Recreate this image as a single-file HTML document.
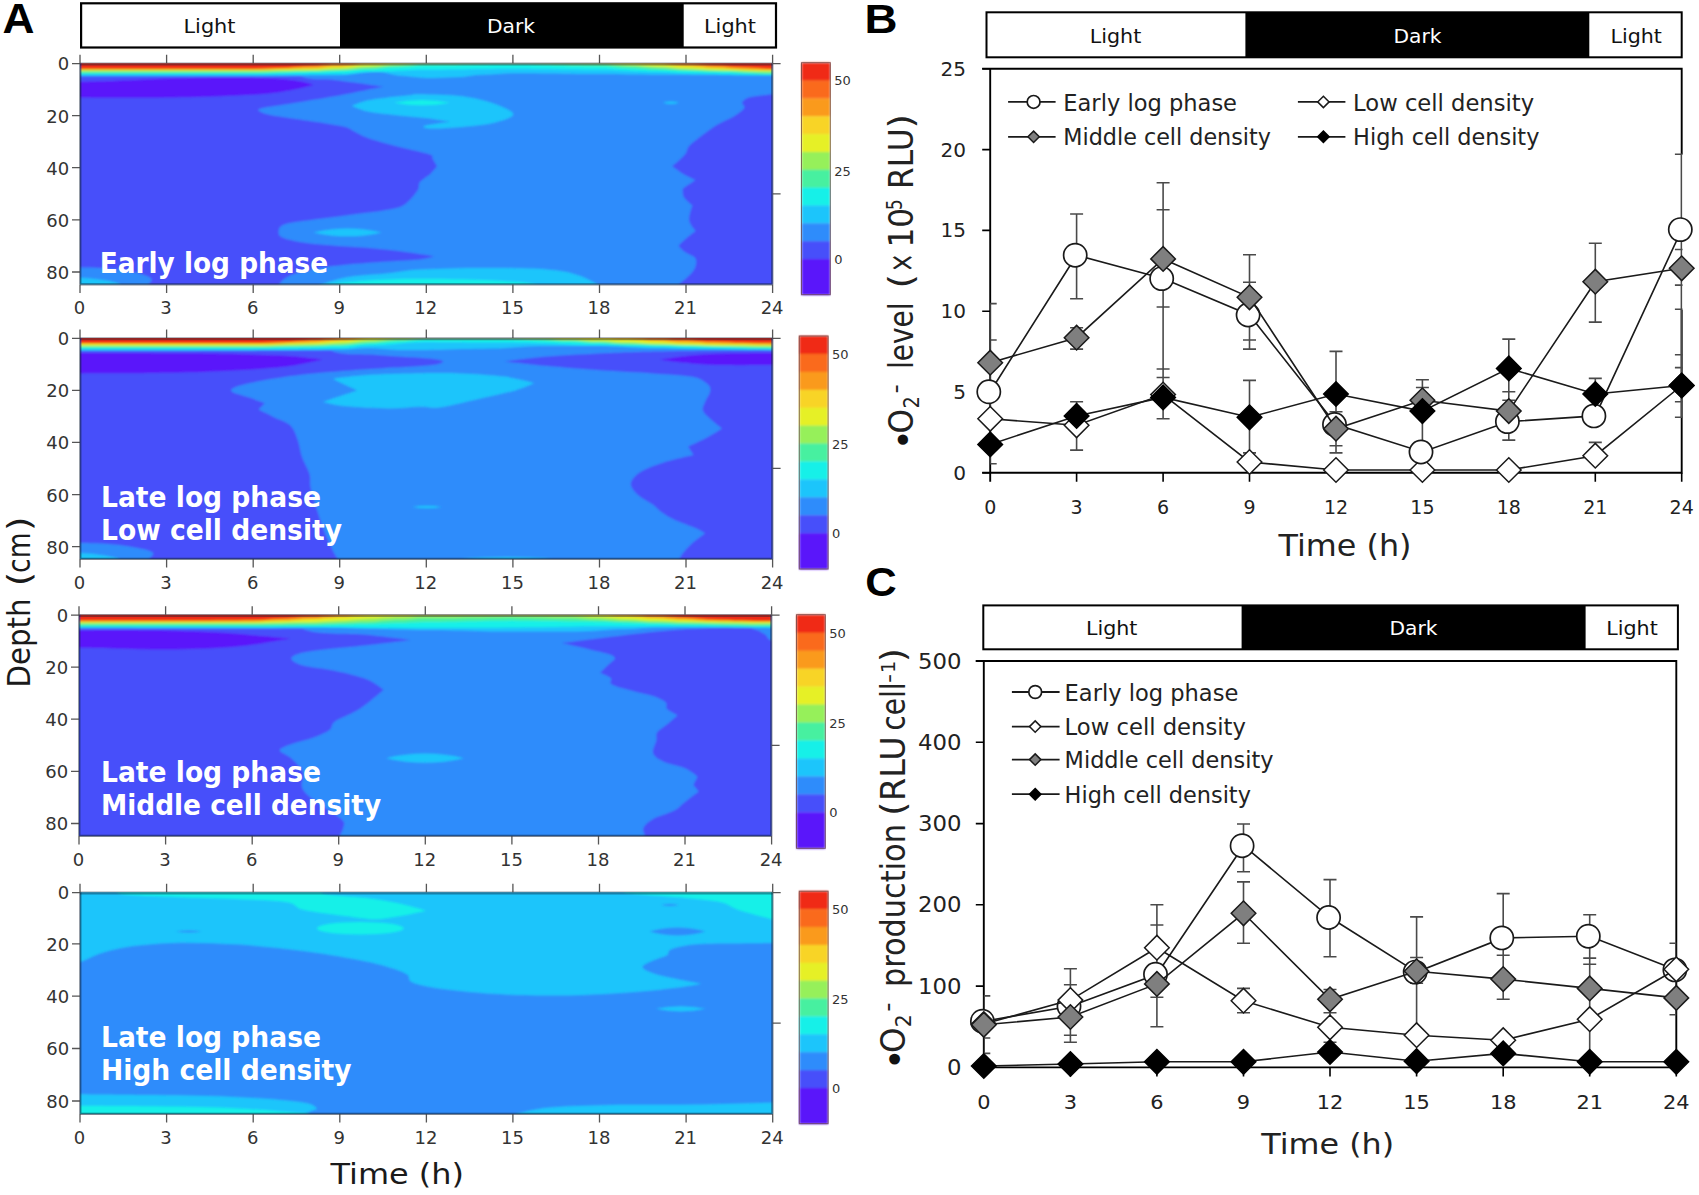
<!DOCTYPE html>
<html lang="en"><head><meta charset="utf-8"><title>Figure</title>
<style>html,body{margin:0;padding:0;background:#fff}body{width:1699px;height:1195px;overflow:hidden}svg text{white-space:pre}</style></head>
<body>
<svg width="1699" height="1195" viewBox="0 0 1699 1195" style="display:block">
<rect width="1699" height="1195" fill="#fff"/>
<defs><filter id="bl" x="-2%" y="-2%" width="104%" height="104%"><feGaussianBlur stdDeviation="0.8"/></filter></defs>
<text x="2.6" y="33" font-family="&quot;Liberation Sans&quot;, sans-serif" font-weight="bold" font-size="42" fill="#000" textLength="32" lengthAdjust="spacingAndGlyphs">A</text>
<rect x="81.1" y="3.3" width="694.9" height="44.2" fill="#fff" stroke="#000" stroke-width="2.2"/>
<rect x="340" y="3.4" width="343.7" height="44" fill="#000"/>
<text x="209.5" y="33" text-anchor="middle" font-family="&quot;DejaVu Sans&quot;, &quot;Liberation Sans&quot;, sans-serif" font-size="20" fill="#111" textLength="52" lengthAdjust="spacingAndGlyphs">Light</text>
<text x="511" y="33" text-anchor="middle" font-family="&quot;DejaVu Sans&quot;, &quot;Liberation Sans&quot;, sans-serif" font-size="20" fill="#fff" textLength="48" lengthAdjust="spacingAndGlyphs">Dark</text>
<text x="730" y="33" text-anchor="middle" font-family="&quot;DejaVu Sans&quot;, &quot;Liberation Sans&quot;, sans-serif" font-size="20" fill="#111" textLength="52" lengthAdjust="spacingAndGlyphs">Light</text>
<clipPath id="cp0"><rect x="80.0" y="63.3" width="692.6" height="221.3"/></clipPath>
<g clip-path="url(#cp0)"><g filter="url(#bl)">
<rect x="60.0" y="43.3" width="732.6" height="261.3" fill="#2d8cfb"/>
<path d="M59.4 44.4C96.5 2.0 242.0 39.3 281.9 44.4C321.8 49.5 290.0 69.2 298.9 75.1C307.7 81.1 323.6 78.5 334.9 80.0C346.2 81.5 358.5 83.1 366.7 84.2C374.8 85.4 383.6 86.8 383.6 86.8C383.6 86.8 374.8 88.4 366.7 90.0C358.5 91.6 347.2 94.1 334.9 96.3C322.5 98.5 304.2 101.4 292.5 103.3C280.8 105.2 270.6 106.4 265.0 107.6C259.3 108.8 257.9 109.3 258.6 110.5C259.3 111.7 263.5 113.4 269.2 114.8C274.8 116.1 283.3 117.2 292.5 118.6C301.7 120.0 315.5 121.8 324.3 123.2C333.1 124.6 340.5 125.7 345.5 127.0C350.4 128.4 350.4 129.5 354.0 131.3C357.5 133.1 361.0 135.5 366.7 137.6C372.3 139.8 380.8 142.1 387.9 144.0C394.9 145.9 402.0 147.5 409.1 149.3C416.1 151.1 426.1 153.0 430.0 154.6C434.0 156.2 431.6 156.9 432.7 158.8C433.9 160.8 437.0 166.3 437.0 166.3C437.0 166.3 433.4 171.0 430.6 173.7C427.8 176.3 422.2 179.3 420.0 182.1C417.8 185.0 420.1 186.9 417.5 190.6C415.0 194.3 409.8 201.2 404.8 204.4C399.9 207.6 396.0 208.1 387.9 209.7C379.7 211.3 366.7 212.5 356.1 213.9C345.5 215.3 334.9 216.8 324.3 218.2C313.7 219.6 299.6 221.2 292.5 222.4C285.4 223.6 284.2 224.2 281.9 225.6C279.6 227.0 278.7 228.9 278.7 230.9C278.7 232.8 277.8 235.3 281.9 237.2C286.0 239.2 294.3 241.1 303.1 242.5C311.9 244.0 324.3 244.8 334.9 245.7C345.5 246.6 356.1 247.0 366.7 247.8C377.3 248.7 387.1 249.6 398.5 251.0C409.8 252.4 434.8 256.3 434.8 256.3C434.8 256.3 427.8 258.6 420.0 259.5C412.2 260.4 400.3 260.7 387.9 261.6C375.4 262.5 357.8 263.6 345.5 264.8C333.1 266.0 323.2 267.1 313.7 269.0C304.2 271.0 294.1 273.6 288.3 276.4C282.4 279.3 280.3 282.3 278.7 286.0C277.1 289.7 278.7 298.7 278.7 298.7C278.7 298.7 59.4 298.7 59.4 298.7C59.4 298.7 22.3 86.8 59.4 44.4Z" fill="#4650fa"/>
<path d="M59.4 82.1C59.4 82.1 93.0 81.5 112.4 80.9C131.8 80.2 154.8 78.9 176.0 78.3C197.1 77.7 221.9 77.4 239.5 77.5C257.2 77.6 271.3 78.2 281.9 78.9C292.5 79.7 297.8 80.7 303.1 81.7C308.4 82.7 313.7 85.1 313.7 85.1C313.7 85.1 301.3 88.4 292.5 90.0C283.7 91.5 276.6 93.0 260.7 94.2C244.8 95.4 218.3 96.4 197.1 97.0C176.0 97.6 156.5 97.7 133.6 97.8C110.6 97.9 59.4 97.4 59.4 97.4C59.4 97.4 59.4 82.1 59.4 82.1Z" fill="#5a14fa"/>
<path d="M59.4 268.0C59.4 268.0 80.6 267.2 91.2 267.5C101.8 267.9 114.5 269.0 123.0 270.1C131.5 271.2 137.3 272.8 142.0 274.3C146.8 275.8 150.5 277.3 151.6 279.2C152.6 281.1 148.9 282.7 148.4 286.0C147.9 289.2 148.4 298.7 148.4 298.7C148.4 298.7 59.4 298.7 59.4 298.7C59.4 298.7 59.4 268.0 59.4 268.0Z" fill="#2d8cfb"/>
<path d="M59.4 276.4C59.4 276.4 82.4 277.7 91.2 278.6C100.0 279.4 107.4 280.5 112.4 281.7C117.3 283.0 119.4 283.2 120.9 286.0C122.3 288.8 120.9 298.7 120.9 298.7C120.9 298.7 59.4 298.7 59.4 298.7C59.4 298.7 59.4 276.4 59.4 276.4Z" fill="#1cc5fb"/>
<path d="M351.8 105.9C351.8 105.9 360.7 102.0 366.7 100.6C372.7 99.1 380.8 98.3 387.9 97.4C394.9 96.5 403.7 95.8 409.1 95.3C414.4 94.7 411.1 94.0 420.0 94.2C428.9 94.4 450.0 94.7 462.4 96.3C474.7 97.9 485.7 100.7 494.2 103.7C502.6 106.7 513.2 111.2 513.2 114.3C513.2 117.5 502.6 120.7 494.2 122.8C485.7 124.9 472.6 126.1 462.4 127.0C452.1 128.0 439.1 128.7 432.7 128.5C426.4 128.4 421.4 127.1 424.2 126.0C427.1 124.9 449.7 121.8 449.7 121.8C449.7 121.8 436.7 119.5 430.0 118.6C423.2 117.7 416.1 117.2 409.1 116.5C402.0 115.7 394.9 115.2 387.9 114.3C380.8 113.5 372.7 112.6 366.7 111.2C360.7 109.7 351.8 105.9 351.8 105.9Z" fill="#1cc5fb"/>
<path d="M394.0 102.7 Q422.0 97.5 450.0 102.7 Q422.0 107.9 394.0 102.7 Z" fill="#16f0e8"/>
<path d="M313.6 232.4 Q347.6 224.6 381.6 232.4 Q347.6 240.2 313.6 232.4 Z" fill="#1cc5fb"/>
<path d="M663.0 102.7 Q671.0 100.1 679.0 102.7 Q671.0 105.3 663.0 102.7 Z" fill="#1cc5fb"/>
<path d="M317.9 286.0C317.9 286.0 333.8 279.6 345.5 277.5C357.1 275.4 375.4 274.6 387.9 273.3C400.3 271.9 404.0 270.3 420.0 269.5C436.0 268.6 462.4 268.0 483.6 268.0C504.8 268.0 531.3 268.2 547.1 269.5C563.0 270.7 570.1 272.6 578.9 275.4C587.8 278.1 600.1 286.0 600.1 286.0C600.1 286.0 600.1 298.7 600.1 298.7C600.1 298.7 317.9 298.7 317.9 298.7C317.9 298.7 317.9 286.0 317.9 286.0Z" fill="#1cc5fb"/>
<path d="M320.1 285.6C320.1 285.6 350.0 281.6 366.7 280.5C383.3 279.3 400.5 278.8 420.0 278.8C439.5 278.7 465.9 279.4 483.6 280.0C501.2 280.7 516.8 281.8 526.0 282.8C535.1 283.8 538.7 286.0 538.7 286.0C538.7 286.0 538.7 298.7 538.7 298.7C538.7 298.7 334.9 298.7 334.9 298.7C334.9 298.7 320.1 285.6 320.1 285.6Z" fill="#16f0e8"/>
<path d="M790.8 94.2C790.8 94.2 778.8 93.9 772.8 94.2C766.8 94.6 759.2 95.6 754.8 96.3C750.4 97.0 748.5 97.4 746.3 98.4C744.2 99.5 742.5 101.1 742.1 102.7C741.7 104.3 745.6 105.7 744.2 108.0C742.8 110.3 738.2 113.6 733.6 116.5C729.0 119.3 722.0 121.8 716.7 124.9C711.4 128.1 706.4 132.0 701.8 135.5C697.2 139.1 692.0 142.9 689.1 146.1C686.3 149.3 687.7 151.2 684.9 154.6C682.1 158.0 672.2 166.3 672.2 166.3C672.2 166.3 678.9 171.4 682.8 173.7C686.7 176.0 695.5 180.0 695.5 180.0C695.5 180.0 682.8 188.5 682.8 188.5C682.8 188.5 682.2 194.2 683.8 197.0C685.4 199.8 692.3 205.5 692.3 205.5C692.3 205.5 688.6 216.1 689.1 220.3C689.7 224.5 695.5 230.9 695.5 230.9C695.5 230.9 687.7 236.9 684.9 239.4C682.1 241.8 678.5 245.7 678.5 245.7C678.5 245.7 682.1 250.0 684.9 252.1C687.7 254.2 693.9 255.6 695.5 258.4C697.1 261.3 695.8 265.8 694.4 269.0C693.0 272.2 689.7 274.7 687.0 277.5C684.4 280.3 679.9 282.4 678.5 286.0C677.1 289.5 678.5 298.7 678.5 298.7C678.5 298.7 790.8 298.7 790.8 298.7C790.8 298.7 790.8 94.2 790.8 94.2Z" fill="#4650fa"/>
<path d="M80.0 61.0L80.0 76.5L87.2 76.5L94.4 76.5L101.6 76.5L108.9 76.5L116.1 76.5L123.3 76.5L130.5 76.5L137.7 76.5L144.9 76.5L152.1 76.5L159.4 76.5L166.6 76.5L173.8 76.5L181.0 76.5L188.2 76.5L195.4 76.5L202.6 76.5L209.9 76.5L217.1 76.5L224.3 76.5L231.5 76.5L238.7 76.5L245.9 76.5L253.2 76.5L260.4 76.5L267.6 76.5L274.8 76.4L282.0 76.3L289.2 76.2L296.4 76.1L303.7 75.9L310.9 75.8L318.1 75.7L325.3 75.6L332.5 75.6L339.7 75.6L346.9 75.5L354.2 75.3L361.4 75.0L368.6 74.8L375.8 74.7L383.0 74.6L390.2 74.5L397.4 74.4L404.7 74.3L411.9 74.1L419.1 74.0L426.3 74.0L433.5 74.0L440.7 74.0L447.9 74.0L455.2 74.0L462.4 74.0L469.6 74.0L476.8 74.0L484.0 74.0L491.2 74.0L498.4 74.0L505.7 74.0L512.9 74.0L520.1 74.0L527.3 74.0L534.5 74.0L541.7 74.0L548.9 74.0L556.2 74.0L563.4 74.0L570.6 74.0L577.8 74.0L585.0 74.0L592.2 74.0L599.5 74.0L606.7 74.0L613.9 74.0L621.1 74.0L628.3 74.0L635.5 74.0L642.7 74.0L650.0 74.0L657.2 74.0L664.4 74.0L671.6 74.0L678.8 74.0L686.0 74.0L693.2 74.0L700.5 74.0L707.7 74.0L714.9 74.0L722.1 74.0L729.3 74.0L736.5 74.0L743.7 74.0L751.0 74.0L758.2 74.0L765.4 74.0L772.6 74.0L772.6 61.0 Z" fill="#2d8cfb"/>
<path d="M80.0 61.0L80.0 75.4L87.2 75.4L94.4 75.4L101.6 75.4L108.9 75.4L116.1 75.4L123.3 75.4L130.5 75.4L137.7 75.4L144.9 75.5L152.1 75.5L159.4 75.5L166.6 75.5L173.8 75.5L181.0 75.5L188.2 75.5L195.4 75.5L202.6 75.5L209.9 75.6L217.1 75.6L224.3 75.6L231.5 75.6L238.7 75.6L245.9 75.6L253.2 75.6L260.4 75.6L267.6 75.6L274.8 75.5L282.0 75.5L289.2 75.5L296.4 75.4L303.7 75.4L310.9 75.3L318.1 75.3L325.3 75.3L332.5 75.2L339.7 75.2L346.9 74.9L354.2 74.1L361.4 73.1L368.6 72.3L375.8 71.8L383.0 72.3L390.2 73.9L397.4 75.6L404.7 76.1L411.9 76.7L419.1 77.6L426.3 78.1L433.5 78.0L440.7 77.7L447.9 77.4L455.2 77.3L462.4 76.9L469.6 76.0L476.8 75.1L484.0 74.7L491.2 74.5L498.4 73.9L505.7 73.4L512.9 73.2L520.1 73.2L527.3 73.3L534.5 73.3L541.7 73.4L548.9 73.5L556.2 73.6L563.4 73.7L570.6 73.8L577.8 73.9L585.0 74.0L592.2 74.0L599.5 74.0L606.7 74.0L613.9 74.1L621.1 74.2L628.3 74.4L635.5 74.5L642.7 74.6L650.0 74.7L657.2 74.7L664.4 74.7L671.6 74.7L678.8 74.8L686.0 74.8L693.2 74.9L700.5 75.0L707.7 75.0L714.9 75.1L722.1 75.2L729.3 75.3L736.5 75.4L743.7 75.5L751.0 75.5L758.2 75.5L765.4 75.6L772.6 75.6L772.6 61.0 Z" fill="#1cc5fb"/>
<path d="M80.0 61.0L80.0 74.4L87.2 74.4L94.4 74.4L101.6 74.4L108.9 74.4L116.1 74.4L123.3 74.4L130.5 74.4L137.7 74.4L144.9 74.4L152.1 74.4L159.4 74.4L166.6 74.4L173.8 74.4L181.0 74.4L188.2 74.4L195.4 74.4L202.6 74.4L209.9 74.4L217.1 74.4L224.3 74.4L231.5 74.4L238.7 74.4L245.9 74.4L253.2 74.4L260.4 74.4L267.6 74.4L274.8 74.3L282.0 74.2L289.2 74.1L296.4 74.0L303.7 73.9L310.9 73.8L318.1 73.7L325.3 73.7L332.5 73.6L339.7 73.6L346.9 73.4L354.2 72.7L361.4 72.1L368.6 71.8L375.8 71.7L383.0 71.5L390.2 71.2L397.4 70.8L404.7 70.4L411.9 70.0L419.1 69.8L426.3 69.7L433.5 69.7L440.7 69.7L447.9 69.6L455.2 69.5L462.4 69.4L469.6 69.2L476.8 69.1L484.0 69.0L491.2 68.9L498.4 68.8L505.7 68.8L512.9 68.8L520.1 68.8L527.3 68.8L534.5 68.9L541.7 69.0L548.9 69.1L556.2 69.2L563.4 69.4L570.6 69.5L577.8 69.6L585.0 69.7L592.2 69.7L599.5 69.7L606.7 69.8L613.9 70.0L621.1 70.4L628.3 70.8L635.5 71.2L642.7 71.5L650.0 71.7L657.2 71.8L664.4 72.0L671.6 72.5L678.8 73.0L686.0 73.2L693.2 73.2L700.5 73.3L707.7 73.5L714.9 73.6L722.1 73.9L729.3 74.1L736.5 74.3L743.7 74.5L751.0 74.7L758.2 74.8L765.4 74.9L772.6 75.0L772.6 61.0 Z" fill="#16f0e8"/>
<path d="M80.0 61.0L80.0 73.2L87.2 73.2L94.4 73.2L101.6 73.2L108.9 73.2L116.1 73.2L123.3 73.2L130.5 73.2L137.7 73.2L144.9 73.2L152.1 73.2L159.4 73.2L166.6 73.2L173.8 73.2L181.0 73.2L188.2 73.2L195.4 73.2L202.6 73.2L209.9 73.2L217.1 73.2L224.3 73.2L231.5 73.2L238.7 73.2L245.9 73.2L253.2 73.2L260.4 73.2L267.6 73.0L274.8 72.8L282.0 72.5L289.2 72.3L296.4 72.0L303.7 71.9L310.9 71.8L318.1 71.7L325.3 71.3L332.5 70.9L339.7 70.8L346.9 70.6L354.2 70.0L361.4 69.5L368.6 69.2L375.8 69.0L383.0 68.3L390.2 67.6L397.4 67.3L404.7 67.0L411.9 66.4L419.1 65.7L426.3 65.4L433.5 65.4L440.7 65.3L447.9 65.3L455.2 65.2L462.4 65.0L469.6 64.9L476.8 64.8L484.0 64.7L491.2 64.6L498.4 64.5L505.7 64.5L512.9 64.4L520.1 64.5L527.3 64.6L534.5 64.7L541.7 64.9L548.9 65.1L556.2 65.4L563.4 65.6L570.6 65.9L577.8 66.1L585.0 66.2L592.2 66.3L599.5 66.4L606.7 66.6L613.9 67.3L621.1 68.0L628.3 68.3L635.5 68.5L642.7 69.0L650.0 69.5L657.2 69.7L664.4 69.9L671.6 70.3L678.8 70.6L686.0 70.8L693.2 70.9L700.5 71.3L707.7 71.7L714.9 71.8L722.1 71.9L729.3 72.1L736.5 72.5L743.7 72.9L751.0 73.3L758.2 73.7L765.4 73.9L772.6 74.0L772.6 61.0 Z" fill="#46f0a0"/>
<path d="M80.0 61.0L80.0 71.8L87.2 71.8L94.4 71.8L101.6 71.8L108.9 71.8L116.1 71.8L123.3 71.8L130.5 71.8L137.7 71.8L144.9 71.8L152.1 71.8L159.4 71.8L166.6 71.8L173.8 71.8L181.0 71.8L188.2 71.8L195.4 71.8L202.6 71.8L209.9 71.8L217.1 71.8L224.3 71.8L231.5 71.8L238.7 71.8L245.9 71.8L253.2 71.8L260.4 71.8L267.6 71.7L274.8 71.6L282.0 71.5L289.2 71.4L296.4 71.2L303.7 71.2L310.9 71.1L318.1 71.0L325.3 70.6L332.5 70.2L339.7 70.1L346.9 69.8L354.2 68.9L361.4 68.1L368.6 67.8L375.8 67.4L383.0 66.6L390.2 65.7L397.4 65.4L404.7 65.1L411.9 64.4L419.1 63.8L426.3 63.5L433.5 63.5L440.7 63.4L447.9 63.4L455.2 63.4L462.4 63.3L469.6 63.2L476.8 63.2L484.0 63.1L491.2 63.1L498.4 63.0L505.7 63.0L512.9 63.0L520.1 63.0L527.3 63.1L534.5 63.1L541.7 63.2L548.9 63.4L556.2 63.5L563.4 63.6L570.6 63.7L577.8 63.8L585.0 63.9L592.2 63.9L599.5 64.0L606.7 64.2L613.9 64.9L621.1 65.6L628.3 65.9L635.5 66.2L642.7 66.8L650.0 67.5L657.2 67.8L664.4 68.1L671.6 68.8L678.8 69.4L686.0 69.7L693.2 69.9L700.5 70.3L707.7 70.6L714.9 70.8L722.1 70.9L729.3 71.0L736.5 71.3L743.7 71.7L751.0 72.0L758.2 72.3L765.4 72.5L772.6 72.5L772.6 61.0 Z" fill="#96f05a"/>
<path d="M80.0 61.0L80.0 70.5L87.2 70.5L94.4 70.5L101.6 70.5L108.9 70.5L116.1 70.5L123.3 70.5L130.5 70.5L137.7 70.5L144.9 70.5L152.1 70.5L159.4 70.5L166.6 70.5L173.8 70.5L181.0 70.5L188.2 70.5L195.4 70.5L202.6 70.5L209.9 70.5L217.1 70.5L224.3 70.5L231.5 70.5L238.7 70.5L245.9 70.5L253.2 70.5L260.4 70.4L267.6 70.3L274.8 70.2L282.0 70.1L289.2 69.9L296.4 69.8L303.7 69.8L310.9 69.7L318.1 69.5L325.3 69.0L332.5 68.5L339.7 68.3L346.9 67.9L354.2 67.1L361.4 66.2L368.6 65.9L375.8 65.6L383.0 64.9L390.2 64.2L397.4 64.0L404.7 63.8L411.9 63.5L419.1 63.1L426.3 63.0L433.5 63.0L440.7 63.0L447.9 63.0L455.2 63.0L462.4 63.0L469.6 63.0L476.8 63.0L484.0 63.0L491.2 63.0L498.4 63.0L505.7 63.0L512.9 63.0L520.1 63.0L527.3 63.0L534.5 63.0L541.7 63.0L548.9 63.0L556.2 63.0L563.4 63.0L570.6 63.0L577.8 63.0L585.0 63.0L592.2 63.0L599.5 63.0L606.7 63.2L613.9 63.7L621.1 64.2L628.3 64.4L635.5 64.7L642.7 65.4L650.0 66.1L657.2 66.4L664.4 66.6L671.6 67.3L678.8 68.0L686.0 68.3L693.2 68.5L700.5 69.0L707.7 69.5L714.9 69.7L722.1 69.8L729.3 69.9L736.5 70.2L743.7 70.4L751.0 70.7L758.2 70.9L765.4 71.1L772.6 71.1L772.6 61.0 Z" fill="#e6f028"/>
<path d="M80.0 61.0L80.0 69.7L87.2 69.7L94.4 69.7L101.6 69.7L108.9 69.7L116.1 69.7L123.3 69.7L130.5 69.7L137.7 69.7L144.9 69.7L152.1 69.7L159.4 69.7L166.6 69.7L173.8 69.7L181.0 69.7L188.2 69.7L195.4 69.7L202.6 69.7L209.9 69.7L217.1 69.7L224.3 69.7L231.5 69.7L238.7 69.7L245.9 69.7L253.2 69.7L260.4 69.7L267.6 69.5L274.8 69.3L282.0 69.0L289.2 68.7L296.4 68.5L303.7 68.3L310.9 68.3L318.1 68.0L325.3 67.3L332.5 66.6L339.7 66.4L346.9 66.0L354.2 65.2L361.4 64.3L368.6 64.0L375.8 63.8L383.0 63.5L390.2 63.1L397.4 63.0L404.7 63.0L411.9 63.0L419.1 63.0L426.3 63.0L433.5 63.0L440.7 63.0L447.9 63.0L455.2 63.0L462.4 63.0L469.6 63.0L476.8 63.0L484.0 63.0L491.2 63.0L498.4 63.0L505.7 63.0L512.9 63.0L520.1 63.0L527.3 63.0L534.5 63.0L541.7 63.0L548.9 63.0L556.2 63.0L563.4 63.0L570.6 63.0L577.8 63.0L585.0 63.0L592.2 63.0L599.5 63.0L606.7 63.0L613.9 63.0L621.1 63.0L628.3 63.0L635.5 63.1L642.7 63.5L650.0 63.8L657.2 64.0L664.4 64.2L671.6 64.9L678.8 65.6L686.0 65.9L693.2 66.2L700.5 66.8L707.7 67.5L714.9 67.8L722.1 68.0L729.3 68.5L736.5 69.0L743.7 69.2L751.0 69.4L758.2 69.7L765.4 70.0L772.6 70.1L772.6 61.0 Z" fill="#fa9a1e"/>
<path d="M80.0 61.0L80.0 68.8L87.2 68.8L94.4 68.8L101.6 68.8L108.9 68.8L116.1 68.8L123.3 68.8L130.5 68.8L137.7 68.8L144.9 68.8L152.1 68.8L159.4 68.8L166.6 68.8L173.8 68.8L181.0 68.8L188.2 68.8L195.4 68.8L202.6 68.8L209.9 68.8L217.1 68.8L224.3 68.8L231.5 68.8L238.7 68.8L245.9 68.8L253.2 68.8L260.4 68.6L267.6 68.3L274.8 67.9L282.0 67.8L289.2 67.5L296.4 66.8L303.7 66.2L310.9 65.9L318.1 65.6L325.3 64.8L332.5 64.1L339.7 63.8L346.9 63.7L354.2 63.4L361.4 63.1L368.6 63.0L375.8 63.0L383.0 63.0L390.2 63.0L397.4 63.0L404.7 63.0L411.9 63.0L419.1 63.0L426.3 63.0L433.5 63.0L440.7 63.0L447.9 63.0L455.2 63.0L462.4 63.0L469.6 63.0L476.8 63.0L484.0 63.0L491.2 63.0L498.4 63.0L505.7 63.0L512.9 63.0L520.1 63.0L527.3 63.0L534.5 63.0L541.7 63.0L548.9 63.0L556.2 63.0L563.4 63.0L570.6 63.0L577.8 63.0L585.0 63.0L592.2 63.0L599.5 63.0L606.7 63.0L613.9 63.0L621.1 63.0L628.3 63.0L635.5 63.0L642.7 63.0L650.0 63.0L657.2 63.0L664.4 63.1L671.6 63.4L678.8 63.7L686.0 63.8L693.2 64.0L700.5 64.6L707.7 65.2L714.9 65.4L722.1 65.7L729.3 66.4L736.5 67.0L743.7 67.3L751.0 67.5L758.2 68.0L765.4 68.5L772.6 68.8L772.6 61.0 Z" fill="#f02a16"/>
</g></g>
<g stroke="#102038" fill="none">
<path d="M80.0 64.1 H772.6" stroke-width="3" opacity="0.42"/>
<path d="M80.0 284.4 H772.6 M80.3 63.3 V284.6 M772.3 63.3 V284.6" stroke-width="2.2" opacity="0.55"/>
<path d="M72.0 63.6 H80.0 M772.6 63.6 H780.6M80.0 54.8 V63.3 M80.0 284.6 V293.1M166.6 54.8 V63.3 M166.6 284.6 V293.1M253.2 54.8 V63.3 M253.2 284.6 V293.1M339.7 54.8 V63.3 M339.7 284.6 V293.1M426.3 54.8 V63.3 M426.3 284.6 V293.1M512.9 54.8 V63.3 M512.9 284.6 V293.1M599.5 54.8 V63.3 M599.5 284.6 V293.1M686.0 54.8 V63.3 M686.0 284.6 V293.1M772.6 54.8 V63.3 M772.6 284.6 V293.1M72.0 115.6 H80.0M72.0 167.7 H80.0M72.0 219.9 H80.0M72.0 272.0 H80.0M772.6 193.9 H780.6" stroke="#444" stroke-width="1.3" opacity="0.9"/>
</g>
<text x="79.5" y="314.4" text-anchor="middle" font-family="&quot;DejaVu Sans&quot;, &quot;Liberation Sans&quot;, sans-serif" font-size="18" fill="#333">0</text>
<text x="166.1" y="314.4" text-anchor="middle" font-family="&quot;DejaVu Sans&quot;, &quot;Liberation Sans&quot;, sans-serif" font-size="18" fill="#333">3</text>
<text x="252.7" y="314.4" text-anchor="middle" font-family="&quot;DejaVu Sans&quot;, &quot;Liberation Sans&quot;, sans-serif" font-size="18" fill="#333">6</text>
<text x="339.2" y="314.4" text-anchor="middle" font-family="&quot;DejaVu Sans&quot;, &quot;Liberation Sans&quot;, sans-serif" font-size="18" fill="#333">9</text>
<text x="425.8" y="314.4" text-anchor="middle" font-family="&quot;DejaVu Sans&quot;, &quot;Liberation Sans&quot;, sans-serif" font-size="18" fill="#333">12</text>
<text x="512.4" y="314.4" text-anchor="middle" font-family="&quot;DejaVu Sans&quot;, &quot;Liberation Sans&quot;, sans-serif" font-size="18" fill="#333">15</text>
<text x="599.0" y="314.4" text-anchor="middle" font-family="&quot;DejaVu Sans&quot;, &quot;Liberation Sans&quot;, sans-serif" font-size="18" fill="#333">18</text>
<text x="685.5" y="314.4" text-anchor="middle" font-family="&quot;DejaVu Sans&quot;, &quot;Liberation Sans&quot;, sans-serif" font-size="18" fill="#333">21</text>
<text x="772.1" y="314.4" text-anchor="middle" font-family="&quot;DejaVu Sans&quot;, &quot;Liberation Sans&quot;, sans-serif" font-size="18" fill="#333">24</text>
<text x="69.2" y="70.4" text-anchor="end" font-family="&quot;DejaVu Sans&quot;, &quot;Liberation Sans&quot;, sans-serif" font-size="18" fill="#333">0</text>
<text x="69.2" y="122.5" text-anchor="end" font-family="&quot;DejaVu Sans&quot;, &quot;Liberation Sans&quot;, sans-serif" font-size="18" fill="#333">20</text>
<text x="69.2" y="174.6" text-anchor="end" font-family="&quot;DejaVu Sans&quot;, &quot;Liberation Sans&quot;, sans-serif" font-size="18" fill="#333">40</text>
<text x="69.2" y="226.8" text-anchor="end" font-family="&quot;DejaVu Sans&quot;, &quot;Liberation Sans&quot;, sans-serif" font-size="18" fill="#333">60</text>
<text x="69.2" y="278.9" text-anchor="end" font-family="&quot;DejaVu Sans&quot;, &quot;Liberation Sans&quot;, sans-serif" font-size="18" fill="#333">80</text>
<text x="99.7" y="273.3" font-family="&quot;DejaVu Sans&quot;, &quot;Liberation Sans&quot;, sans-serif" font-weight="bold" font-size="27.5" fill="#fff" textLength="228.5" lengthAdjust="spacingAndGlyphs">Early log phase</text>
<g filter="url(#bl)">
<rect x="801.5" y="62.70" width="28.8" height="18.15" fill="#f02a16"/>
<rect x="801.5" y="80.55" width="28.8" height="18.15" fill="#fa6a1e"/>
<rect x="801.5" y="98.39" width="28.8" height="18.15" fill="#fa9a1e"/>
<rect x="801.5" y="116.24" width="28.8" height="18.15" fill="#f8d428"/>
<rect x="801.5" y="134.08" width="28.8" height="18.15" fill="#e6f028"/>
<rect x="801.5" y="151.93" width="28.8" height="18.15" fill="#96f05a"/>
<rect x="801.5" y="169.78" width="28.8" height="18.15" fill="#46f0a0"/>
<rect x="801.5" y="187.62" width="28.8" height="18.15" fill="#16f0e8"/>
<rect x="801.5" y="205.47" width="28.8" height="18.15" fill="#1cc5fb"/>
<rect x="801.5" y="223.32" width="28.8" height="18.15" fill="#2d8cfb"/>
<rect x="801.5" y="241.16" width="28.8" height="18.15" fill="#4650fa"/>
<rect x="801.5" y="259.01" width="28.8" height="35.99" fill="#5a14fa"/>
</g>
<rect x="801.5" y="62.7" width="28.8" height="232.0" fill="none" stroke="#5a3030" stroke-width="1" opacity="0.7"/>
<text x="834.3" y="85.4" font-family="&quot;DejaVu Sans&quot;, &quot;Liberation Sans&quot;, sans-serif" font-size="13" fill="#333">50</text>
<text x="834.3" y="175.6" font-family="&quot;DejaVu Sans&quot;, &quot;Liberation Sans&quot;, sans-serif" font-size="13" fill="#333">25</text>
<text x="834.3" y="264.0" font-family="&quot;DejaVu Sans&quot;, &quot;Liberation Sans&quot;, sans-serif" font-size="13" fill="#333">0</text>
<clipPath id="cp1"><rect x="80.0" y="338.0" width="692.6" height="221.0"/></clipPath>
<g clip-path="url(#cp1)"><g filter="url(#bl)">
<rect x="60.0" y="318.0" width="732.6" height="261.0" fill="#2d8cfb"/>
<path d="M59.4 319.4C59.4 319.4 324.3 319.4 324.3 319.4C324.3 319.4 321.8 344.2 330.6 350.1C339.5 356.1 360.7 353.6 377.3 355.0C393.8 356.4 419.0 357.5 430.0 358.6C441.0 359.7 443.3 361.4 443.3 361.4C443.3 361.4 442.8 363.9 430.0 365.2C417.3 366.5 387.8 367.6 366.7 369.2C345.5 370.8 322.5 372.2 303.1 374.5C283.7 376.8 262.1 380.3 250.1 383.0C238.1 385.6 231.1 387.9 231.1 390.4C231.1 392.9 244.5 395.7 250.1 397.8C255.8 399.9 265.0 403.1 265.0 403.1C265.0 403.1 258.6 409.5 258.6 409.5C258.6 409.5 268.1 414.2 273.4 416.9C278.7 419.5 286.3 421.5 290.4 425.4C294.4 429.2 295.9 434.9 297.8 440.2C299.7 445.5 300.1 451.5 302.0 457.1C304.0 462.8 308.0 469.2 309.5 474.1C310.9 479.0 309.5 481.5 310.5 486.8C311.6 492.1 313.5 498.5 315.8 505.9C318.1 513.3 321.5 523.9 324.3 531.3C327.1 538.7 330.5 545.4 332.8 550.4C335.1 555.3 337.2 557.1 338.1 561.0C338.9 564.9 338.1 573.7 338.1 573.7C338.1 573.7 59.4 573.7 59.4 573.7C59.4 573.7 59.4 319.4 59.4 319.4Z" fill="#4650fa"/>
<path d="M59.4 352.9C59.4 352.9 160.1 352.9 197.1 353.3C234.2 353.8 261.1 354.6 281.9 355.6C302.7 356.7 322.2 359.7 322.2 359.7C322.2 359.7 299.2 365.1 281.9 367.1C264.6 369.0 239.5 370.3 218.3 371.3C197.1 372.3 181.3 372.7 154.8 373.0C128.3 373.4 59.4 373.4 59.4 373.4C59.4 373.4 59.4 352.9 59.4 352.9Z" fill="#5a14fa"/>
<path d="M332.8 378.7C332.8 378.7 350.5 375.9 366.7 374.9C382.9 374.0 414.1 373.3 430.0 373.0C446.0 372.8 449.9 372.8 462.4 373.4C474.8 374.0 492.8 375.0 504.8 376.6C516.8 378.2 534.4 383.0 534.4 383.0C534.4 383.0 523.8 387.9 515.4 390.4C506.9 392.9 495.9 395.0 483.6 397.8C471.2 400.6 451.8 405.9 441.2 407.3C430.6 408.8 428.9 406.5 420.0 406.7C411.1 406.9 400.3 408.5 387.9 408.4C375.4 408.3 356.3 407.3 345.5 406.3C334.7 405.2 323.2 402.0 323.2 402.0C323.2 402.0 329.2 399.8 334.9 397.8C340.5 395.9 357.1 390.4 357.1 390.4C357.1 390.4 349.5 387.0 345.5 385.1C341.4 383.2 332.8 378.7 332.8 378.7Z" fill="#1cc5fb"/>
<path d="M412.0 507.0 Q427.0 504.4 442.0 507.0 Q427.0 509.6 412.0 507.0 Z" fill="#1cc5fb"/>
<path d="M59.4 543.0C59.4 543.0 89.4 542.9 101.8 543.6C114.1 544.3 125.1 545.7 133.6 547.2C142.0 548.7 150.2 550.2 152.6 552.5C155.1 554.8 149.1 557.4 148.4 561.0C147.7 564.5 148.4 573.7 148.4 573.7C148.4 573.7 59.4 573.7 59.4 573.7C59.4 573.7 59.4 543.0 59.4 543.0Z" fill="#2d8cfb"/>
<path d="M59.4 552.5C59.4 552.5 85.5 553.1 95.4 554.2C105.3 555.3 115.9 557.4 118.7 558.9C121.6 560.3 113.4 560.6 112.4 563.1C111.3 565.6 112.4 573.7 112.4 573.7C112.4 573.7 59.4 573.7 59.4 573.7C59.4 573.7 59.4 552.5 59.4 552.5Z" fill="#1cc5fb"/>
<path d="M460.9 558.6 Q506.9 555.4 552.9 558.6 Q506.9 561.8 460.9 558.6 Z" fill="#1cc5fb"/>
<path d="M504.8 361.4C504.8 361.4 529.5 357.9 547.1 356.5C564.8 355.1 589.5 353.8 610.7 352.9C631.9 352.0 644.3 351.7 674.3 351.2C704.3 350.7 790.8 350.1 790.8 350.1C790.8 350.1 790.8 573.7 790.8 573.7C790.8 573.7 679.6 573.7 679.6 573.7C679.6 573.7 677.6 563.8 679.6 558.9C681.5 553.9 687.0 548.3 691.2 544.0C695.5 539.8 705.0 533.4 705.0 533.4C705.0 533.4 700.6 530.4 695.5 528.1C690.4 525.8 679.9 522.3 674.3 519.7C668.6 517.0 665.1 514.7 661.6 512.2C658.0 509.8 657.0 507.7 653.1 504.8C649.2 502.0 642.0 498.8 638.3 495.3C634.6 491.8 630.5 487.5 630.8 483.6C631.2 479.7 634.9 475.5 640.4 472.0C645.9 468.4 654.9 465.3 663.7 462.4C672.5 459.6 693.4 455.0 693.4 455.0C693.4 455.0 688.1 446.6 688.1 446.6C688.1 446.6 700.4 441.1 706.1 438.1C711.7 435.1 722.0 428.5 722.0 428.5C722.0 428.5 713.5 422.0 710.3 419.0C707.1 416.0 703.8 413.4 702.9 410.5C702.0 407.7 703.8 405.4 705.0 402.0C706.3 398.7 710.1 393.6 710.3 390.4C710.5 387.2 709.3 385.3 706.1 383.0C702.9 380.7 700.1 378.2 691.2 376.6C682.4 375.0 668.3 374.5 653.1 373.4C637.9 372.4 617.8 371.5 600.1 370.3C582.5 369.0 563.0 367.5 547.1 366.0C531.3 364.5 504.8 361.4 504.8 361.4Z" fill="#4650fa"/>
<path d="M659.5 359.7C659.5 359.7 682.4 356.1 695.5 355.0C708.5 353.9 722.0 353.7 737.9 353.3C753.8 353.0 790.8 352.9 790.8 352.9C790.8 352.9 790.8 365.0 790.8 365.0C790.8 365.0 734.3 365.3 716.7 365.0C699.0 364.6 694.4 363.7 684.9 362.8C675.4 362.0 659.5 359.7 659.5 359.7Z" fill="#5a14fa"/>
<path d="M80.0 335.6L80.0 350.8L87.2 350.8L94.4 350.8L101.6 350.8L108.9 350.8L116.1 350.8L123.3 350.8L130.5 350.8L137.7 350.8L144.9 350.7L152.1 350.7L159.4 350.7L166.6 350.7L173.8 350.7L181.0 350.7L188.2 350.7L195.4 350.7L202.6 350.6L209.9 350.6L217.1 350.6L224.3 350.6L231.5 350.6L238.7 350.6L245.9 350.5L253.2 350.5L260.4 350.5L267.6 350.5L274.8 350.5L282.0 350.5L289.2 350.5L296.4 350.5L303.7 350.5L310.9 350.4L318.1 350.4L325.3 350.4L332.5 350.4L339.7 350.4L346.9 350.4L354.2 350.2L361.4 350.0L368.6 349.9L375.8 349.8L383.0 349.8L390.2 349.6L397.4 349.5L404.7 349.4L411.9 349.3L419.1 349.2L426.3 349.2L433.5 349.2L440.7 349.2L447.9 349.2L455.2 349.2L462.4 349.2L469.6 349.2L476.8 349.2L484.0 349.2L491.2 349.2L498.4 349.2L505.7 349.2L512.9 349.3L520.1 349.3L527.3 349.3L534.5 349.3L541.7 349.3L548.9 349.4L556.2 349.4L563.4 349.4L570.6 349.4L577.8 349.4L585.0 349.5L592.2 349.5L599.5 349.5L606.7 349.5L613.9 349.6L621.1 349.6L628.3 349.6L635.5 349.6L642.7 349.6L650.0 349.7L657.2 349.7L664.4 349.7L671.6 349.7L678.8 349.7L686.0 349.8L693.2 349.8L700.5 349.8L707.7 349.8L714.9 349.8L722.1 349.8L729.3 349.8L736.5 349.8L743.7 349.9L751.0 349.9L758.2 349.9L765.4 349.9L772.6 349.9L772.6 335.6 Z" fill="#2d8cfb"/>
<path d="M80.0 335.6L80.0 350.2L87.2 350.2L94.4 350.2L101.6 350.2L108.9 350.2L116.1 350.2L123.3 350.2L130.5 350.2L137.7 350.2L144.9 350.2L152.1 350.2L159.4 350.2L166.6 350.2L173.8 350.2L181.0 350.2L188.2 350.2L195.4 350.2L202.6 350.2L209.9 350.2L217.1 350.2L224.3 350.2L231.5 350.2L238.7 350.2L245.9 350.2L253.2 350.2L260.4 350.1L267.6 350.1L274.8 350.1L282.0 350.0L289.2 349.9L296.4 349.9L303.7 349.8L310.9 349.7L318.1 349.7L325.3 349.6L332.5 349.6L339.7 349.6L346.9 349.4L354.2 348.9L361.4 348.5L368.6 348.3L375.8 348.5L383.0 349.1L390.2 349.6L397.4 349.9L404.7 349.9L411.9 349.9L419.1 349.9L426.3 349.9L433.5 349.8L440.7 349.7L447.9 349.5L455.2 349.3L462.4 349.1L469.6 348.9L476.8 348.8L484.0 348.7L491.2 348.6L498.4 348.4L505.7 347.9L512.9 347.4L520.1 346.9L527.3 346.5L534.5 346.2L541.7 346.1L548.9 346.1L556.2 346.1L563.4 346.1L570.6 346.1L577.8 346.1L585.0 346.1L592.2 346.1L599.5 346.1L606.7 346.2L613.9 346.5L621.1 346.8L628.3 347.2L635.5 347.6L642.7 348.0L650.0 348.2L657.2 348.3L664.4 348.3L671.6 348.4L678.8 348.4L686.0 348.5L693.2 348.7L700.5 348.8L707.7 348.9L714.9 349.1L722.1 349.2L729.3 349.4L736.5 349.5L743.7 349.6L751.0 349.7L758.2 349.8L765.4 349.9L772.6 349.9L772.6 335.6 Z" fill="#1cc5fb"/>
<path d="M80.0 335.6L80.0 349.2L87.2 349.2L94.4 349.2L101.6 349.2L108.9 349.2L116.1 349.2L123.3 349.2L130.5 349.2L137.7 349.2L144.9 349.2L152.1 349.2L159.4 349.2L166.6 349.2L173.8 349.2L181.0 349.2L188.2 349.2L195.4 349.2L202.6 349.2L209.9 349.2L217.1 349.2L224.3 349.2L231.5 349.2L238.7 349.2L245.9 349.2L253.2 349.2L260.4 349.1L267.6 349.1L274.8 349.0L282.0 348.9L289.2 348.8L296.4 348.7L303.7 348.6L310.9 348.5L318.1 348.4L325.3 348.4L332.5 348.3L339.7 348.3L346.9 347.9L354.2 346.9L361.4 345.8L368.6 345.4L375.8 345.3L383.0 344.9L390.2 344.4L397.4 343.8L404.7 343.1L411.9 342.6L419.1 342.3L426.3 342.1L433.5 342.1L440.7 342.2L447.9 342.2L455.2 342.3L462.4 342.3L469.6 342.4L476.8 342.4L484.0 342.5L491.2 342.6L498.4 342.6L505.7 342.6L512.9 342.6L520.1 342.7L527.3 342.8L534.5 343.0L541.7 343.2L548.9 343.5L556.2 343.8L563.4 344.1L570.6 344.4L577.8 344.7L585.0 344.9L592.2 345.0L599.5 345.0L606.7 345.1L613.9 345.3L621.1 345.6L628.3 346.0L635.5 346.3L642.7 346.6L650.0 346.8L657.2 346.9L664.4 347.1L671.6 347.6L678.8 348.1L686.0 348.3L693.2 348.3L700.5 348.4L707.7 348.4L714.9 348.5L722.1 348.6L729.3 348.7L736.5 348.8L743.7 348.9L751.0 349.0L758.2 349.1L765.4 349.1L772.6 349.2L772.6 335.6 Z" fill="#16f0e8"/>
<path d="M80.0 335.6L80.0 347.6L87.2 347.6L94.4 347.6L101.6 347.6L108.9 347.6L116.1 347.6L123.3 347.6L130.5 347.6L137.7 347.6L144.9 347.6L152.1 347.6L159.4 347.6L166.6 347.6L173.8 347.6L181.0 347.6L188.2 347.6L195.4 347.6L202.6 347.6L209.9 347.6L217.1 347.6L224.3 347.6L231.5 347.6L238.7 347.6L245.9 347.6L253.2 347.6L260.4 347.5L267.6 347.4L274.8 347.3L282.0 347.0L289.2 346.8L296.4 346.7L303.7 346.5L310.9 346.5L318.1 346.3L325.3 346.0L332.5 345.6L339.7 345.4L346.9 345.2L354.2 344.5L361.4 343.9L368.6 343.6L375.8 343.3L383.0 342.6L390.2 341.9L397.4 341.6L404.7 341.3L411.9 340.6L419.1 339.9L426.3 339.6L433.5 339.6L440.7 339.6L447.9 339.6L455.2 339.6L462.4 339.6L469.6 339.6L476.8 339.6L484.0 339.6L491.2 339.6L498.4 339.6L505.7 339.6L512.9 339.6L520.1 339.7L527.3 339.9L534.5 340.2L541.7 340.6L548.9 341.0L556.2 341.3L563.4 341.5L570.6 341.6L577.8 341.8L585.0 342.4L592.2 342.9L599.5 343.1L606.7 343.4L613.9 343.9L621.1 344.4L628.3 344.7L635.5 344.8L642.7 345.0L650.0 345.3L657.2 345.4L664.4 345.5L671.6 345.8L678.8 346.0L686.0 346.1L693.2 346.2L700.5 346.5L707.7 346.8L714.9 346.9L722.1 346.9L729.3 347.1L736.5 347.3L743.7 347.6L751.0 347.9L758.2 348.1L765.4 348.3L772.6 348.3L772.6 335.6 Z" fill="#46f0a0"/>
<path d="M80.0 335.6L80.0 346.5L87.2 346.5L94.4 346.5L101.6 346.5L108.9 346.5L116.1 346.5L123.3 346.5L130.5 346.5L137.7 346.5L144.9 346.5L152.1 346.5L159.4 346.5L166.6 346.5L173.8 346.5L181.0 346.5L188.2 346.5L195.4 346.5L202.6 346.5L209.9 346.5L217.1 346.5L224.3 346.5L231.5 346.5L238.7 346.5L245.9 346.5L253.2 346.5L260.4 346.5L267.6 346.4L274.8 346.3L282.0 346.1L289.2 346.0L296.4 345.9L303.7 345.8L310.9 345.8L318.1 345.6L325.3 345.2L332.5 344.8L339.7 344.7L346.9 344.3L354.2 343.4L361.4 342.5L368.6 342.1L375.8 341.8L383.0 340.9L390.2 340.0L397.4 339.6L404.7 339.4L411.9 338.9L419.1 338.3L426.3 338.1L433.5 338.1L440.7 338.0L447.9 337.9L455.2 337.9L462.4 337.8L469.6 337.7L476.8 337.6L484.0 337.6L491.2 337.7L498.4 337.8L505.7 338.1L512.9 338.4L520.1 338.6L527.3 338.9L534.5 339.1L541.7 339.1L548.9 339.3L556.2 339.9L563.4 340.4L570.6 340.6L577.8 340.8L585.0 341.4L592.2 341.9L599.5 342.1L606.7 342.3L613.9 342.9L621.1 343.4L628.3 343.6L635.5 343.8L642.7 344.1L650.0 344.5L657.2 344.7L664.4 344.8L671.6 345.0L678.8 345.3L686.0 345.4L693.2 345.5L700.5 345.8L707.7 346.0L714.9 346.1L722.1 346.2L729.3 346.2L736.5 346.4L743.7 346.5L751.0 346.6L758.2 346.8L765.4 346.8L772.6 346.9L772.6 335.6 Z" fill="#96f05a"/>
<path d="M80.0 335.6L80.0 345.4L87.2 345.4L94.4 345.4L101.6 345.4L108.9 345.4L116.1 345.4L123.3 345.4L130.5 345.4L137.7 345.4L144.9 345.4L152.1 345.4L159.4 345.4L166.6 345.4L173.8 345.4L181.0 345.4L188.2 345.4L195.4 345.4L202.6 345.4L209.9 345.4L217.1 345.4L224.3 345.4L231.5 345.4L238.7 345.4L245.9 345.4L253.2 345.4L260.4 345.4L267.6 345.2L274.8 345.0L282.0 344.8L289.2 344.5L296.4 344.3L303.7 344.2L310.9 344.1L318.1 343.9L325.3 343.4L332.5 342.9L339.7 342.6L346.9 342.3L354.2 341.4L361.4 340.5L368.6 340.1L375.8 339.8L383.0 339.1L390.2 338.4L397.4 338.1L404.7 338.0L411.9 337.9L419.1 337.7L426.3 337.6L433.5 337.6L440.7 337.6L447.9 337.6L455.2 337.6L462.4 337.6L469.6 337.6L476.8 337.6L484.0 337.6L491.2 337.6L498.4 337.6L505.7 337.6L512.9 337.6L520.1 337.6L527.3 337.6L534.5 337.6L541.7 337.6L548.9 337.8L556.2 338.4L563.4 338.9L570.6 339.1L577.8 339.3L585.0 339.9L592.2 340.4L599.5 340.6L606.7 340.8L613.9 341.4L621.1 341.9L628.3 342.1L635.5 342.3L642.7 342.9L650.0 343.4L657.2 343.6L664.4 343.8L671.6 344.1L678.8 344.5L686.0 344.7L693.2 344.8L700.5 345.0L707.7 345.3L714.9 345.4L722.1 345.4L729.3 345.5L736.5 345.5L743.7 345.6L751.0 345.7L758.2 345.7L765.4 345.8L772.6 345.8L772.6 335.6 Z" fill="#e6f028"/>
<path d="M80.0 335.6L80.0 344.1L87.2 344.1L94.4 344.1L101.6 344.1L108.9 344.1L116.1 344.1L123.3 344.1L130.5 344.1L137.7 344.1L144.9 344.1L152.1 344.1L159.4 344.1L166.6 344.1L173.8 344.1L181.0 344.1L188.2 344.1L195.4 344.1L202.6 344.1L209.9 344.1L217.1 344.1L224.3 344.1L231.5 344.1L238.7 344.1L245.9 344.1L253.2 344.1L260.4 344.1L267.6 343.9L274.8 343.7L282.0 343.4L289.2 343.1L296.4 342.9L303.7 342.7L310.9 342.6L318.1 342.3L325.3 341.6L332.5 340.9L339.7 340.6L346.9 340.2L354.2 339.4L361.4 338.5L368.6 338.1L375.8 338.0L383.0 337.9L390.2 337.7L397.4 337.6L404.7 337.6L411.9 337.6L419.1 337.6L426.3 337.6L433.5 337.6L440.7 337.6L447.9 337.6L455.2 337.6L462.4 337.6L469.6 337.6L476.8 337.6L484.0 337.6L491.2 337.6L498.4 337.6L505.7 337.6L512.9 337.6L520.1 337.6L527.3 337.6L534.5 337.6L541.7 337.6L548.9 337.6L556.2 337.6L563.4 337.6L570.6 337.6L577.8 337.6L585.0 337.6L592.2 337.6L599.5 337.6L606.7 337.8L613.9 338.4L621.1 338.9L628.3 339.1L635.5 339.4L642.7 340.1L650.0 340.8L657.2 341.1L664.4 341.3L671.6 341.9L678.8 342.4L686.0 342.6L693.2 342.8L700.5 343.1L707.7 343.5L714.9 343.6L722.1 343.7L729.3 343.9L736.5 344.1L743.7 344.1L751.0 344.2L758.2 344.4L765.4 344.6L772.6 344.7L772.6 335.6 Z" fill="#fa9a1e"/>
<path d="M80.0 335.6L80.0 343.1L87.2 343.1L94.4 343.1L101.6 343.1L108.9 343.1L116.1 343.1L123.3 343.1L130.5 343.1L137.7 343.1L144.9 343.1L152.1 343.1L159.4 343.1L166.6 343.1L173.8 343.1L181.0 343.1L188.2 343.1L195.4 343.1L202.6 343.1L209.9 343.1L217.1 343.1L224.3 343.1L231.5 343.1L238.7 343.1L245.9 343.1L253.2 343.1L260.4 343.0L267.6 342.6L274.8 342.3L282.0 342.1L289.2 341.8L296.4 341.1L303.7 340.4L310.9 340.1L318.1 339.8L325.3 339.1L332.5 338.4L339.7 338.1L346.9 338.0L354.2 337.9L361.4 337.7L368.6 337.6L375.8 337.6L383.0 337.6L390.2 337.6L397.4 337.6L404.7 337.6L411.9 337.6L419.1 337.6L426.3 337.6L433.5 337.6L440.7 337.6L447.9 337.6L455.2 337.6L462.4 337.6L469.6 337.6L476.8 337.6L484.0 337.6L491.2 337.6L498.4 337.6L505.7 337.6L512.9 337.6L520.1 337.6L527.3 337.6L534.5 337.6L541.7 337.6L548.9 337.6L556.2 337.6L563.4 337.6L570.6 337.6L577.8 337.6L585.0 337.6L592.2 337.6L599.5 337.6L606.7 337.6L613.9 337.6L621.1 337.6L628.3 337.6L635.5 337.7L642.7 338.1L650.0 338.5L657.2 338.6L664.4 338.8L671.6 339.4L678.8 339.9L686.0 340.1L693.2 340.3L700.5 340.9L707.7 341.4L714.9 341.6L722.1 341.8L729.3 342.1L736.5 342.5L743.7 342.6L751.0 342.7L758.2 342.9L765.4 343.1L772.6 343.1L772.6 335.6 Z" fill="#f02a16"/>
</g></g>
<g stroke="#102038" fill="none">
<path d="M80.0 338.8 H772.6" stroke-width="3" opacity="0.42"/>
<path d="M80.0 558.8 H772.6 M80.3 338.0 V559.0 M772.3 338.0 V559.0" stroke-width="2.2" opacity="0.55"/>
<path d="M72.0 338.3 H80.0 M772.6 338.3 H780.6M80.0 329.5 V338.0 M80.0 559.0 V567.5M166.6 329.5 V338.0 M166.6 559.0 V567.5M253.2 329.5 V338.0 M253.2 559.0 V567.5M339.7 329.5 V338.0 M339.7 559.0 V567.5M426.3 329.5 V338.0 M426.3 559.0 V567.5M512.9 329.5 V338.0 M512.9 559.0 V567.5M599.5 329.5 V338.0 M599.5 559.0 V567.5M686.0 329.5 V338.0 M686.0 559.0 V567.5M772.6 329.5 V338.0 M772.6 559.0 V567.5M72.0 390.3 H80.0M72.0 442.4 H80.0M72.0 494.6 H80.0M72.0 546.7 H80.0M772.6 468.4 H780.6" stroke="#444" stroke-width="1.3" opacity="0.9"/>
</g>
<text x="79.5" y="588.8" text-anchor="middle" font-family="&quot;DejaVu Sans&quot;, &quot;Liberation Sans&quot;, sans-serif" font-size="18" fill="#333">0</text>
<text x="166.1" y="588.8" text-anchor="middle" font-family="&quot;DejaVu Sans&quot;, &quot;Liberation Sans&quot;, sans-serif" font-size="18" fill="#333">3</text>
<text x="252.7" y="588.8" text-anchor="middle" font-family="&quot;DejaVu Sans&quot;, &quot;Liberation Sans&quot;, sans-serif" font-size="18" fill="#333">6</text>
<text x="339.2" y="588.8" text-anchor="middle" font-family="&quot;DejaVu Sans&quot;, &quot;Liberation Sans&quot;, sans-serif" font-size="18" fill="#333">9</text>
<text x="425.8" y="588.8" text-anchor="middle" font-family="&quot;DejaVu Sans&quot;, &quot;Liberation Sans&quot;, sans-serif" font-size="18" fill="#333">12</text>
<text x="512.4" y="588.8" text-anchor="middle" font-family="&quot;DejaVu Sans&quot;, &quot;Liberation Sans&quot;, sans-serif" font-size="18" fill="#333">15</text>
<text x="599.0" y="588.8" text-anchor="middle" font-family="&quot;DejaVu Sans&quot;, &quot;Liberation Sans&quot;, sans-serif" font-size="18" fill="#333">18</text>
<text x="685.5" y="588.8" text-anchor="middle" font-family="&quot;DejaVu Sans&quot;, &quot;Liberation Sans&quot;, sans-serif" font-size="18" fill="#333">21</text>
<text x="772.1" y="588.8" text-anchor="middle" font-family="&quot;DejaVu Sans&quot;, &quot;Liberation Sans&quot;, sans-serif" font-size="18" fill="#333">24</text>
<text x="69.2" y="345.1" text-anchor="end" font-family="&quot;DejaVu Sans&quot;, &quot;Liberation Sans&quot;, sans-serif" font-size="18" fill="#333">0</text>
<text x="69.2" y="397.2" text-anchor="end" font-family="&quot;DejaVu Sans&quot;, &quot;Liberation Sans&quot;, sans-serif" font-size="18" fill="#333">20</text>
<text x="69.2" y="449.3" text-anchor="end" font-family="&quot;DejaVu Sans&quot;, &quot;Liberation Sans&quot;, sans-serif" font-size="18" fill="#333">40</text>
<text x="69.2" y="501.5" text-anchor="end" font-family="&quot;DejaVu Sans&quot;, &quot;Liberation Sans&quot;, sans-serif" font-size="18" fill="#333">60</text>
<text x="69.2" y="553.6" text-anchor="end" font-family="&quot;DejaVu Sans&quot;, &quot;Liberation Sans&quot;, sans-serif" font-size="18" fill="#333">80</text>
<text x="101.0" y="507.0" font-family="&quot;DejaVu Sans&quot;, &quot;Liberation Sans&quot;, sans-serif" font-weight="bold" font-size="27.5" fill="#fff" textLength="220.0" lengthAdjust="spacingAndGlyphs">Late log phase</text>
<text x="101.0" y="539.8" font-family="&quot;DejaVu Sans&quot;, &quot;Liberation Sans&quot;, sans-serif" font-weight="bold" font-size="27.5" fill="#fff" textLength="241.0" lengthAdjust="spacingAndGlyphs">Low cell density</text>
<g filter="url(#bl)">
<rect x="799.3" y="336.00" width="28.8" height="18.22" fill="#f02a16"/>
<rect x="799.3" y="353.92" width="28.8" height="18.22" fill="#fa6a1e"/>
<rect x="799.3" y="371.85" width="28.8" height="18.22" fill="#fa9a1e"/>
<rect x="799.3" y="389.77" width="28.8" height="18.22" fill="#f8d428"/>
<rect x="799.3" y="407.69" width="28.8" height="18.22" fill="#e6f028"/>
<rect x="799.3" y="425.62" width="28.8" height="18.22" fill="#96f05a"/>
<rect x="799.3" y="443.54" width="28.8" height="18.22" fill="#46f0a0"/>
<rect x="799.3" y="461.46" width="28.8" height="18.22" fill="#16f0e8"/>
<rect x="799.3" y="479.38" width="28.8" height="18.22" fill="#1cc5fb"/>
<rect x="799.3" y="497.31" width="28.8" height="18.22" fill="#2d8cfb"/>
<rect x="799.3" y="515.23" width="28.8" height="18.22" fill="#4650fa"/>
<rect x="799.3" y="533.15" width="28.8" height="36.15" fill="#5a14fa"/>
</g>
<rect x="799.3" y="336.0" width="28.8" height="233.0" fill="none" stroke="#5a3030" stroke-width="1" opacity="0.7"/>
<text x="832.1" y="358.7" font-family="&quot;DejaVu Sans&quot;, &quot;Liberation Sans&quot;, sans-serif" font-size="13" fill="#333">50</text>
<text x="832.1" y="449.4" font-family="&quot;DejaVu Sans&quot;, &quot;Liberation Sans&quot;, sans-serif" font-size="13" fill="#333">25</text>
<text x="832.1" y="538.2" font-family="&quot;DejaVu Sans&quot;, &quot;Liberation Sans&quot;, sans-serif" font-size="13" fill="#333">0</text>
<clipPath id="cp2"><rect x="79.0" y="614.8" width="692.6" height="221.2"/></clipPath>
<g clip-path="url(#cp2)"><g filter="url(#bl)">
<rect x="59.0" y="594.8" width="732.6" height="261.2" fill="#2d8cfb"/>
<path d="M59.4 594.4C59.4 594.4 292.5 594.4 292.5 594.4C292.5 594.4 290.7 622.0 303.1 628.7C315.5 635.4 348.7 632.8 366.7 634.7C384.7 636.5 411.2 640.0 411.2 640.0C411.2 640.0 381.2 643.7 366.7 645.3C352.2 646.9 335.6 648.1 324.3 649.5C313.0 650.9 304.3 652.1 298.9 653.7C293.4 655.3 290.7 657.1 291.4 659.0C292.2 661.0 295.9 663.5 303.1 665.4C310.3 667.3 324.3 668.4 334.9 670.7C345.5 673.0 358.5 676.0 366.7 679.2C374.8 682.3 383.6 689.8 383.6 689.8C383.6 689.8 375.5 696.8 370.9 700.4C366.3 703.9 362.1 707.4 356.1 711.0C350.1 714.5 339.3 718.4 334.9 721.6C330.5 724.7 333.1 727.4 329.6 730.0C326.1 732.7 319.9 735.1 313.7 737.4C307.5 739.7 298.2 741.7 292.5 743.8C286.9 745.9 280.1 747.9 279.8 750.2C279.4 752.5 286.5 753.9 290.4 757.6C294.3 761.3 301.2 767.5 303.1 772.4C305.0 777.4 300.3 782.7 302.0 787.2C303.8 791.8 307.2 794.7 313.7 800.0C320.2 805.3 336.3 814.4 341.2 819.0C346.2 823.6 343.7 824.3 343.4 827.5C343.0 830.7 339.8 834.6 339.1 838.1C338.4 841.6 339.1 848.7 339.1 848.7C339.1 848.7 59.4 848.7 59.4 848.7C59.4 848.7 59.4 594.4 59.4 594.4Z" fill="#4650fa"/>
<path d="M59.4 630.4C59.4 630.4 107.1 629.7 133.6 630.0C160.1 630.4 192.2 631.1 218.3 632.5C244.5 634.0 290.4 638.5 290.4 638.5C290.4 638.5 258.6 644.5 239.5 646.3C220.5 648.2 197.1 649.1 176.0 649.5C154.8 649.9 131.8 648.8 112.4 648.4C93.0 648.1 59.4 647.4 59.4 647.4C59.4 647.4 59.4 630.4 59.4 630.4Z" fill="#5a14fa"/>
<path d="M386.0 758.2 Q425.0 749.0 464.0 758.2 Q425.0 767.4 386.0 758.2 Z" fill="#1cc5fb"/>
<path d="M562.0 643.1C562.0 643.1 592.0 639.0 610.7 636.8C629.4 634.6 653.1 631.6 674.3 630.0C695.5 628.4 724.4 627.4 737.9 627.3C751.3 627.1 750.2 628.1 754.8 629.4C759.4 630.6 762.8 632.9 765.4 634.7C768.1 636.4 766.5 638.9 770.7 640.0C774.9 641.0 790.8 641.0 790.8 641.0C790.8 641.0 790.8 848.7 790.8 848.7C790.8 848.7 644.6 848.7 644.6 848.7C644.6 848.7 644.8 839.5 644.6 836.0C644.4 832.4 642.2 830.3 643.6 827.5C645.0 824.7 648.0 821.9 653.1 819.0C658.2 816.2 669.0 813.4 674.3 810.6C679.6 807.7 680.8 805.3 684.9 802.1C688.9 798.9 698.7 791.5 698.7 791.5C698.7 791.5 693.4 785.1 693.4 785.1C693.4 785.1 697.6 776.6 697.6 776.6C697.6 776.6 690.5 770.6 684.9 768.2C679.2 765.7 669.0 764.3 663.7 761.8C658.4 759.3 654.3 756.9 653.1 753.3C651.9 749.8 655.6 744.2 656.3 740.6C657.0 737.1 655.4 735.0 657.3 732.1C659.3 729.3 664.6 726.5 667.9 723.7C671.3 720.8 677.5 715.2 677.5 715.2C677.5 715.2 668.8 711.0 666.9 708.8C664.9 706.7 668.1 704.6 665.8 702.5C663.5 700.4 658.8 698.1 653.1 696.1C647.4 694.2 638.8 692.8 631.9 690.8C625.0 688.9 615.3 686.6 611.8 684.5C608.2 682.3 612.7 680.1 610.7 678.1C608.8 676.2 600.1 672.8 600.1 672.8C600.1 672.8 604.0 668.7 606.5 666.5C609.0 664.2 615.0 659.0 615.0 659.0C615.0 659.0 615.0 656.4 610.7 654.8C606.5 653.2 597.7 651.4 589.5 649.5C581.4 647.6 562.0 643.1 562.0 643.1Z" fill="#4650fa"/>
<path d="M79.0 612.6L79.0 628.8L86.2 628.8L93.4 628.8L100.6 628.8L107.9 628.8L115.1 628.8L122.3 628.8L129.5 628.8L136.7 628.8L143.9 628.8L151.1 628.8L158.4 628.8L165.6 628.8L172.8 628.8L180.0 628.8L187.2 628.8L194.4 628.8L201.6 628.8L208.9 628.8L216.1 628.8L223.3 628.8L230.5 628.8L237.7 628.8L244.9 628.8L252.2 628.8L259.4 628.8L266.6 628.8L273.8 628.7L281.0 628.7L288.2 628.6L295.4 628.5L302.7 628.5L309.9 628.4L317.1 628.4L324.3 628.3L331.5 628.3L338.7 628.3L345.9 628.3L353.2 628.2L360.4 628.2L367.6 628.1L374.8 628.0L382.0 627.9L389.2 627.8L396.4 627.7L403.7 627.6L410.9 627.5L418.1 627.4L425.3 627.4L432.5 627.4L439.7 627.4L446.9 627.4L454.2 627.4L461.4 627.4L468.6 627.4L475.8 627.4L483.0 627.4L490.2 627.4L497.4 627.4L504.7 627.4L511.9 627.4L519.1 627.4L526.3 627.4L533.5 627.4L540.7 627.4L547.9 627.4L555.2 627.4L562.4 627.4L569.6 627.4L576.8 627.4L584.0 627.4L591.2 627.4L598.5 627.4L605.7 627.4L612.9 627.4L620.1 627.4L627.3 627.4L634.5 627.4L641.7 627.4L649.0 627.4L656.2 627.4L663.4 627.4L670.6 627.4L677.8 627.4L685.0 627.4L692.2 627.4L699.5 627.4L706.7 627.4L713.9 627.4L721.1 627.4L728.3 627.4L735.5 627.4L742.7 627.4L750.0 627.4L757.2 627.4L764.4 627.4L771.6 627.4L771.6 612.6 Z" fill="#2d8cfb"/>
<path d="M79.0 612.6L79.0 627.6L86.2 627.6L93.4 627.6L100.6 627.6L107.9 627.6L115.1 627.6L122.3 627.6L129.5 627.6L136.7 627.7L143.9 627.7L151.1 627.7L158.4 627.7L165.6 627.7L172.8 627.7L180.0 627.7L187.2 627.7L194.4 627.8L201.6 627.8L208.9 627.8L216.1 627.8L223.3 627.8L230.5 627.8L237.7 627.8L244.9 627.8L252.2 627.8L259.4 627.8L266.6 627.7L273.8 627.7L281.0 627.6L288.2 627.5L295.4 627.5L302.7 627.4L309.9 627.4L317.1 627.5L324.3 627.6L331.5 627.7L338.7 627.8L345.9 627.9L353.2 628.3L360.4 628.6L367.6 628.8L374.8 628.8L382.0 629.0L389.2 629.2L396.4 629.4L403.7 629.6L410.9 629.8L418.1 630.0L425.3 630.0L432.5 630.0L439.7 630.1L446.9 630.3L454.2 630.4L461.4 630.6L468.6 630.8L475.8 631.0L483.0 631.2L490.2 631.4L497.4 631.5L504.7 631.6L511.9 631.6L519.1 631.6L526.3 631.6L533.5 631.6L540.7 631.6L547.9 631.6L555.2 631.6L562.4 631.6L569.6 631.6L576.8 631.5L584.0 631.3L591.2 630.9L598.5 630.4L605.7 630.0L612.9 629.6L620.1 629.3L627.3 629.2L634.5 628.9L641.7 628.3L649.0 627.7L656.2 627.4L663.4 627.4L670.6 627.4L677.8 627.3L685.0 627.3L692.2 627.2L699.5 627.2L706.7 627.2L713.9 627.2L721.1 627.2L728.3 627.2L735.5 627.4L742.7 627.5L750.0 627.6L757.2 627.7L764.4 627.8L771.6 627.8L771.6 612.6 Z" fill="#1cc5fb"/>
<path d="M79.0 612.6L79.0 626.9L86.2 626.9L93.4 626.9L100.6 626.9L107.9 626.9L115.1 626.9L122.3 626.9L129.5 626.9L136.7 626.9L143.9 626.9L151.1 626.9L158.4 626.9L165.6 626.9L172.8 626.9L180.0 626.9L187.2 626.9L194.4 626.9L201.6 626.9L208.9 626.9L216.1 626.9L223.3 626.9L230.5 626.9L237.7 626.9L244.9 626.9L252.2 626.9L259.4 626.9L266.6 626.9L273.8 626.9L281.0 626.9L288.2 626.9L295.4 626.9L302.7 626.9L309.9 626.9L317.1 626.9L324.3 626.9L331.5 626.9L338.7 626.9L345.9 627.0L353.2 627.2L360.4 627.4L367.6 627.4L374.8 627.4L382.0 627.5L389.2 627.5L396.4 627.6L403.7 627.7L410.9 627.7L418.1 627.8L425.3 627.8L432.5 627.8L439.7 627.8L446.9 627.8L454.2 627.8L461.4 627.8L468.6 627.8L475.8 627.8L483.0 627.8L490.2 627.8L497.4 627.7L504.7 627.6L511.9 627.5L519.1 627.4L526.3 627.2L533.5 627.2L540.7 627.2L547.9 627.1L555.2 627.0L562.4 626.8L569.6 626.7L576.8 626.5L584.0 626.3L591.2 626.2L598.5 626.2L605.7 626.2L612.9 626.2L620.1 626.2L627.3 626.2L634.5 626.2L641.7 626.2L649.0 626.2L656.2 626.2L663.4 626.2L670.6 626.2L677.8 626.2L685.0 626.3L692.2 626.4L699.5 626.5L706.7 626.6L713.9 626.7L721.1 626.8L728.3 626.8L735.5 626.9L742.7 627.0L750.0 627.1L757.2 627.1L764.4 627.1L771.6 627.2L771.6 612.6 Z" fill="#16f0e8"/>
<path d="M79.0 612.6L79.0 625.7L86.2 625.7L93.4 625.7L100.6 625.7L107.9 625.7L115.1 625.7L122.3 625.7L129.5 625.7L136.7 625.7L143.9 625.7L151.1 625.7L158.4 625.7L165.6 625.7L172.8 625.7L180.0 625.7L187.2 625.7L194.4 625.7L201.6 625.7L208.9 625.7L216.1 625.7L223.3 625.7L230.5 625.7L237.7 625.7L244.9 625.7L252.2 625.7L259.4 625.7L266.6 625.7L273.8 625.6L281.0 625.5L288.2 625.4L295.4 625.4L302.7 625.3L309.9 625.3L317.1 625.2L324.3 624.9L331.5 624.7L338.7 624.6L345.9 624.5L353.2 624.2L360.4 624.0L367.6 623.9L374.8 623.8L382.0 623.5L389.2 623.2L396.4 623.1L403.7 623.0L410.9 622.6L418.1 622.2L425.3 622.0L432.5 622.0L439.7 621.9L446.9 621.8L454.2 621.7L461.4 621.5L468.6 621.3L475.8 621.2L483.0 621.0L490.2 620.8L497.4 620.7L504.7 620.7L511.9 620.6L519.1 620.7L526.3 620.7L533.5 620.8L540.7 620.9L547.9 621.0L555.2 621.1L562.4 621.3L569.6 621.4L576.8 621.5L584.0 621.6L591.2 621.6L598.5 621.7L605.7 621.8L612.9 622.2L620.1 622.6L627.3 622.8L634.5 622.9L641.7 623.1L649.0 623.4L656.2 623.5L663.4 623.7L670.6 624.0L677.8 624.4L685.0 624.6L692.2 624.6L699.5 624.7L706.7 624.8L713.9 625.0L721.1 625.2L728.3 625.4L735.5 625.6L742.7 625.8L750.0 625.9L757.2 626.1L764.4 626.1L771.6 626.2L771.6 612.6 Z" fill="#46f0a0"/>
<path d="M79.0 612.6L79.0 623.9L86.2 623.9L93.4 623.9L100.6 623.9L107.9 623.9L115.1 623.9L122.3 623.9L129.5 623.9L136.7 623.9L143.9 623.9L151.1 623.9L158.4 623.9L165.6 623.9L172.8 623.9L180.0 623.9L187.2 623.9L194.4 623.9L201.6 623.9L208.9 623.9L216.1 623.9L223.3 623.9L230.5 623.9L237.7 623.9L244.9 623.9L252.2 623.9L259.4 623.9L266.6 623.8L273.8 623.8L281.0 623.7L288.2 623.6L295.4 623.6L302.7 623.5L309.9 623.5L317.1 623.4L324.3 623.1L331.5 622.9L338.7 622.8L345.9 622.6L353.2 622.2L360.4 621.8L367.6 621.7L374.8 621.4L382.0 620.6L389.2 619.9L396.4 619.6L403.7 619.4L410.9 618.9L418.1 618.3L425.3 618.1L432.5 618.1L439.7 618.1L446.9 618.0L454.2 617.9L461.4 617.7L468.6 617.6L475.8 617.5L483.0 617.4L490.2 617.3L497.4 617.2L504.7 617.1L511.9 617.1L519.1 617.2L526.3 617.3L533.5 617.4L540.7 617.6L547.9 617.8L555.2 618.0L562.4 618.1L569.6 618.1L576.8 618.3L584.0 618.9L591.2 619.4L598.5 619.6L605.7 619.9L612.9 620.4L620.1 620.9L627.3 621.1L634.5 621.3L641.7 621.8L649.0 622.2L656.2 622.4L663.4 622.5L670.6 622.8L677.8 623.0L685.0 623.1L692.2 623.2L699.5 623.2L706.7 623.4L713.9 623.5L721.1 623.7L728.3 623.9L735.5 624.1L742.7 624.2L750.0 624.4L757.2 624.5L764.4 624.6L771.6 624.6L771.6 612.6 Z" fill="#96f05a"/>
<path d="M79.0 612.6L79.0 622.8L86.2 622.8L93.4 622.8L100.6 622.8L107.9 622.8L115.1 622.8L122.3 622.8L129.5 622.8L136.7 622.8L143.9 622.8L151.1 622.8L158.4 622.8L165.6 622.8L172.8 622.8L180.0 622.8L187.2 622.8L194.4 622.8L201.6 622.8L208.9 622.8L216.1 622.8L223.3 622.8L230.5 622.8L237.7 622.8L244.9 622.8L252.2 622.8L259.4 622.8L266.6 622.7L273.8 622.6L281.0 622.4L288.2 622.3L295.4 622.1L302.7 622.1L309.9 622.0L317.1 621.8L324.3 621.3L331.5 620.8L338.7 620.6L345.9 620.3L353.2 619.6L360.4 618.9L367.6 618.6L374.8 618.3L382.0 617.6L389.2 616.9L396.4 616.6L403.7 616.4L410.9 615.9L418.1 615.3L425.3 615.1L432.5 615.1L439.7 615.0L446.9 614.9L454.2 614.9L461.4 614.8L468.6 614.7L475.8 614.6L483.0 614.6L490.2 614.6L497.4 614.6L504.7 614.7L511.9 614.7L519.1 614.8L526.3 614.9L533.5 614.9L540.7 615.0L547.9 615.0L555.2 615.1L562.4 615.1L569.6 615.1L576.8 615.4L584.0 616.1L591.2 616.8L598.5 617.1L605.7 617.4L612.9 618.1L620.1 618.8L627.3 619.1L634.5 619.3L641.7 619.9L649.0 620.4L656.2 620.6L663.4 620.8L670.6 621.1L677.8 621.5L685.0 621.7L692.2 621.8L699.5 622.0L706.7 622.3L713.9 622.4L721.1 622.4L728.3 622.5L735.5 622.6L742.7 622.8L750.0 622.9L757.2 623.0L764.4 623.1L771.6 623.1L771.6 612.6 Z" fill="#e6f028"/>
<path d="M79.0 612.6L79.0 621.7L86.2 621.7L93.4 621.7L100.6 621.7L107.9 621.7L115.1 621.7L122.3 621.7L129.5 621.7L136.7 621.7L143.9 621.7L151.1 621.7L158.4 621.7L165.6 621.7L172.8 621.7L180.0 621.7L187.2 621.7L194.4 621.7L201.6 621.7L208.9 621.7L216.1 621.7L223.3 621.7L230.5 621.7L237.7 621.7L244.9 621.7L252.2 621.7L259.4 621.5L266.6 621.1L273.8 620.8L281.0 620.6L288.2 620.4L295.4 619.9L302.7 619.3L309.9 619.1L317.1 618.8L324.3 618.1L331.5 617.4L338.7 617.1L345.9 616.8L353.2 616.1L360.4 615.4L367.6 615.1L374.8 615.0L382.0 614.9L389.2 614.7L396.4 614.6L403.7 614.6L410.9 614.6L418.1 614.6L425.3 614.6L432.5 614.6L439.7 614.6L446.9 614.6L454.2 614.6L461.4 614.6L468.6 614.6L475.8 614.6L483.0 614.6L490.2 614.6L497.4 614.6L504.7 614.6L511.9 614.6L519.1 614.6L526.3 614.6L533.5 614.6L540.7 614.6L547.9 614.6L555.2 614.6L562.4 614.6L569.6 614.6L576.8 614.6L584.0 614.6L591.2 614.6L598.5 614.6L605.7 614.8L612.9 615.4L620.1 615.9L627.3 616.1L634.5 616.4L641.7 617.1L649.0 617.8L656.2 618.1L663.4 618.3L670.6 618.9L677.8 619.4L685.0 619.6L692.2 619.9L699.5 620.4L706.7 620.9L713.9 621.1L721.1 621.2L728.3 621.3L735.5 621.4L742.7 621.6L750.0 621.8L757.2 621.9L764.4 622.0L771.6 622.0L771.6 612.6 Z" fill="#fa9a1e"/>
<path d="M79.0 612.6L79.0 620.6L86.2 620.6L93.4 620.6L100.6 620.6L107.9 620.6L115.1 620.6L122.3 620.6L129.5 620.6L136.7 620.6L143.9 620.6L151.1 620.6L158.4 620.6L165.6 620.6L172.8 620.6L180.0 620.6L187.2 620.6L194.4 620.5L201.6 620.4L208.9 620.4L216.1 620.3L223.3 620.3L230.5 620.2L237.7 620.2L244.9 620.1L252.2 620.1L259.4 619.9L266.6 619.4L273.8 618.8L281.0 618.6L288.2 618.3L295.4 617.6L302.7 616.9L309.9 616.6L317.1 616.4L324.3 615.8L331.5 615.2L338.7 614.9L345.9 614.9L353.2 614.8L360.4 614.6L367.6 614.6L374.8 614.6L382.0 614.6L389.2 614.6L396.4 614.6L403.7 614.6L410.9 614.6L418.1 614.6L425.3 614.6L432.5 614.6L439.7 614.6L446.9 614.6L454.2 614.6L461.4 614.6L468.6 614.6L475.8 614.6L483.0 614.6L490.2 614.6L497.4 614.6L504.7 614.6L511.9 614.6L519.1 614.6L526.3 614.6L533.5 614.6L540.7 614.6L547.9 614.6L555.2 614.6L562.4 614.6L569.6 614.6L576.8 614.6L584.0 614.6L591.2 614.6L598.5 614.6L605.7 614.6L612.9 614.6L620.1 614.6L627.3 614.6L634.5 614.7L641.7 615.1L649.0 615.5L656.2 615.6L663.4 615.9L670.6 616.6L677.8 617.3L685.0 617.6L692.2 617.9L699.5 618.6L706.7 619.3L713.9 619.6L721.1 619.8L728.3 620.1L735.5 620.5L742.7 620.6L750.0 620.7L757.2 620.9L764.4 621.1L771.6 621.1L771.6 612.6 Z" fill="#f02a16"/>
</g></g>
<g stroke="#102038" fill="none">
<path d="M79.0 615.6 H771.6" stroke-width="3" opacity="0.42"/>
<path d="M79.0 835.8 H771.6 M79.3 614.8 V836.0 M771.3 614.8 V836.0" stroke-width="2.2" opacity="0.55"/>
<path d="M71.0 615.1 H79.0 M771.6 615.1 H779.6M79.0 606.3 V614.8 M79.0 836.0 V844.5M165.6 606.3 V614.8 M165.6 836.0 V844.5M252.2 606.3 V614.8 M252.2 836.0 V844.5M338.7 606.3 V614.8 M338.7 836.0 V844.5M425.3 606.3 V614.8 M425.3 836.0 V844.5M511.9 606.3 V614.8 M511.9 836.0 V844.5M598.5 606.3 V614.8 M598.5 836.0 V844.5M685.0 606.3 V614.8 M685.0 836.0 V844.5M771.6 606.3 V614.8 M771.6 836.0 V844.5M71.0 667.1 H79.0M71.0 719.2 H79.0M71.0 771.4 H79.0M71.0 823.5 H79.0M771.6 745.3 H779.6" stroke="#444" stroke-width="1.3" opacity="0.9"/>
</g>
<text x="78.5" y="865.8" text-anchor="middle" font-family="&quot;DejaVu Sans&quot;, &quot;Liberation Sans&quot;, sans-serif" font-size="18" fill="#333">0</text>
<text x="165.1" y="865.8" text-anchor="middle" font-family="&quot;DejaVu Sans&quot;, &quot;Liberation Sans&quot;, sans-serif" font-size="18" fill="#333">3</text>
<text x="251.7" y="865.8" text-anchor="middle" font-family="&quot;DejaVu Sans&quot;, &quot;Liberation Sans&quot;, sans-serif" font-size="18" fill="#333">6</text>
<text x="338.2" y="865.8" text-anchor="middle" font-family="&quot;DejaVu Sans&quot;, &quot;Liberation Sans&quot;, sans-serif" font-size="18" fill="#333">9</text>
<text x="424.8" y="865.8" text-anchor="middle" font-family="&quot;DejaVu Sans&quot;, &quot;Liberation Sans&quot;, sans-serif" font-size="18" fill="#333">12</text>
<text x="511.4" y="865.8" text-anchor="middle" font-family="&quot;DejaVu Sans&quot;, &quot;Liberation Sans&quot;, sans-serif" font-size="18" fill="#333">15</text>
<text x="598.0" y="865.8" text-anchor="middle" font-family="&quot;DejaVu Sans&quot;, &quot;Liberation Sans&quot;, sans-serif" font-size="18" fill="#333">18</text>
<text x="684.5" y="865.8" text-anchor="middle" font-family="&quot;DejaVu Sans&quot;, &quot;Liberation Sans&quot;, sans-serif" font-size="18" fill="#333">21</text>
<text x="771.1" y="865.8" text-anchor="middle" font-family="&quot;DejaVu Sans&quot;, &quot;Liberation Sans&quot;, sans-serif" font-size="18" fill="#333">24</text>
<text x="68.2" y="621.9" text-anchor="end" font-family="&quot;DejaVu Sans&quot;, &quot;Liberation Sans&quot;, sans-serif" font-size="18" fill="#333">0</text>
<text x="68.2" y="674.0" text-anchor="end" font-family="&quot;DejaVu Sans&quot;, &quot;Liberation Sans&quot;, sans-serif" font-size="18" fill="#333">20</text>
<text x="68.2" y="726.1" text-anchor="end" font-family="&quot;DejaVu Sans&quot;, &quot;Liberation Sans&quot;, sans-serif" font-size="18" fill="#333">40</text>
<text x="68.2" y="778.3" text-anchor="end" font-family="&quot;DejaVu Sans&quot;, &quot;Liberation Sans&quot;, sans-serif" font-size="18" fill="#333">60</text>
<text x="68.2" y="830.4" text-anchor="end" font-family="&quot;DejaVu Sans&quot;, &quot;Liberation Sans&quot;, sans-serif" font-size="18" fill="#333">80</text>
<text x="101.0" y="782.0" font-family="&quot;DejaVu Sans&quot;, &quot;Liberation Sans&quot;, sans-serif" font-weight="bold" font-size="27.5" fill="#fff" textLength="220.0" lengthAdjust="spacingAndGlyphs">Late log phase</text>
<text x="101.0" y="814.8" font-family="&quot;DejaVu Sans&quot;, &quot;Liberation Sans&quot;, sans-serif" font-weight="bold" font-size="27.5" fill="#fff" textLength="280.1" lengthAdjust="spacingAndGlyphs">Middle cell density</text>
<g filter="url(#bl)">
<rect x="796.5" y="614.70" width="28.8" height="18.27" fill="#f02a16"/>
<rect x="796.5" y="632.67" width="28.8" height="18.27" fill="#fa6a1e"/>
<rect x="796.5" y="650.64" width="28.8" height="18.27" fill="#fa9a1e"/>
<rect x="796.5" y="668.61" width="28.8" height="18.27" fill="#f8d428"/>
<rect x="796.5" y="686.58" width="28.8" height="18.27" fill="#e6f028"/>
<rect x="796.5" y="704.55" width="28.8" height="18.27" fill="#96f05a"/>
<rect x="796.5" y="722.52" width="28.8" height="18.27" fill="#46f0a0"/>
<rect x="796.5" y="740.48" width="28.8" height="18.27" fill="#16f0e8"/>
<rect x="796.5" y="758.45" width="28.8" height="18.27" fill="#1cc5fb"/>
<rect x="796.5" y="776.42" width="28.8" height="18.27" fill="#2d8cfb"/>
<rect x="796.5" y="794.39" width="28.8" height="18.27" fill="#4650fa"/>
<rect x="796.5" y="812.36" width="28.8" height="36.24" fill="#5a14fa"/>
</g>
<rect x="796.5" y="614.7" width="28.8" height="233.6" fill="none" stroke="#5a3030" stroke-width="1" opacity="0.7"/>
<text x="829.3" y="637.5" font-family="&quot;DejaVu Sans&quot;, &quot;Liberation Sans&quot;, sans-serif" font-size="13" fill="#333">50</text>
<text x="829.3" y="728.4" font-family="&quot;DejaVu Sans&quot;, &quot;Liberation Sans&quot;, sans-serif" font-size="13" fill="#333">25</text>
<text x="829.3" y="817.4" font-family="&quot;DejaVu Sans&quot;, &quot;Liberation Sans&quot;, sans-serif" font-size="13" fill="#333">0</text>
<clipPath id="cp3"><rect x="80.0" y="892.3" width="692.7" height="221.7"/></clipPath>
<g clip-path="url(#cp3)"><g filter="url(#bl)">
<rect x="60.0" y="872.3" width="732.7" height="261.7" fill="#1cc5fb"/>
<path d="M59.4 964.8C59.4 964.8 74.0 963.5 81.0 961.6C88.1 959.6 93.0 955.7 101.8 953.1C110.5 950.5 120.5 947.8 133.6 946.1C146.6 944.4 162.5 943.0 180.2 942.7C197.9 942.5 219.0 943.3 239.5 944.6C260.0 946.0 283.7 948.5 303.1 951.0C322.5 953.5 342.0 956.8 356.1 959.5C370.2 962.1 379.4 964.4 387.9 966.9C396.3 969.4 403.1 971.8 406.9 974.3C410.8 976.8 407.3 979.6 411.2 981.7C415.0 983.8 421.5 985.4 430.0 987.0C438.6 988.6 449.9 990.0 462.4 991.3C474.8 992.5 487.1 993.7 504.8 994.4C522.4 995.1 547.1 995.8 568.3 995.5C589.5 995.1 614.3 993.5 631.9 992.3C649.6 991.1 662.6 989.5 674.3 988.1C685.9 986.7 701.8 983.8 701.8 983.8C701.8 983.8 682.4 980.3 674.3 978.5C666.2 976.8 658.4 975.2 653.1 973.2C647.8 971.3 642.5 969.0 642.5 966.9C642.5 964.8 649.0 962.5 653.1 960.5C657.2 958.6 664.0 957.0 666.9 955.2C669.7 953.5 667.1 951.5 670.1 949.9C673.1 948.3 677.1 946.8 684.9 945.7C692.7 944.6 699.0 944.0 716.7 943.6C734.3 943.1 790.8 943.1 790.8 943.1C790.8 943.1 790.8 1134.3 790.8 1134.3C790.8 1134.3 59.4 1134.3 59.4 1134.3C59.4 1134.3 59.4 964.8 59.4 964.8Z" fill="#2d8cfb"/>
<path d="M59.4 1094.0C59.4 1094.0 124.7 1094.6 154.8 1095.1C184.8 1095.6 214.8 1096.0 239.5 1097.2C264.3 1098.4 290.2 1100.6 303.1 1102.5C316.0 1104.4 316.9 1108.9 316.9 1108.9C316.9 1108.9 305.4 1112.7 303.1 1115.2C300.8 1117.7 303.1 1123.7 303.1 1123.7C303.1 1123.7 59.4 1123.7 59.4 1123.7C59.4 1123.7 59.4 1094.0 59.4 1094.0Z" fill="#1cc5fb"/>
<path d="M59.4 1105.7C59.4 1105.7 124.7 1105.9 154.8 1106.3C184.8 1106.8 213.7 1107.1 239.5 1108.4C265.3 1109.7 309.5 1114.2 309.5 1114.2C309.5 1114.2 309.5 1123.7 309.5 1123.7C309.5 1123.7 59.4 1123.7 59.4 1123.7C59.4 1123.7 59.4 1105.7 59.4 1105.7Z" fill="#16f0e8"/>
<path d="M515.4 1114.4C515.4 1114.4 531.3 1109.4 547.1 1107.8C563.0 1106.2 586.0 1105.6 610.7 1105.0C635.4 1104.5 665.5 1105.1 695.5 1104.6C725.5 1104.1 790.8 1102.1 790.8 1102.1C790.8 1102.1 790.8 1123.7 790.8 1123.7C790.8 1123.7 515.4 1123.7 515.4 1123.7C515.4 1123.7 515.4 1114.4 515.4 1114.4Z" fill="#1cc5fb"/>
<path d="M118.7 888.5C118.7 888.5 112.0 892.9 125.1 894.4C138.2 896.0 171.0 896.6 197.1 897.8C223.3 899.0 264.3 899.6 281.9 901.6C299.6 903.6 292.5 907.3 303.1 909.7C313.7 912.1 333.5 914.4 345.5 916.0C357.5 917.6 366.0 919.2 375.1 919.2C384.3 919.2 392.1 917.4 400.6 916.0C409.1 914.6 426.0 910.7 426.0 910.7C426.0 910.7 410.5 905.9 400.6 903.7C390.7 901.6 379.4 899.6 366.7 898.0C354.0 896.4 331.4 895.6 324.3 894.0C317.2 892.4 324.3 888.5 324.3 888.5C324.3 888.5 118.7 888.5 118.7 888.5Z" fill="#16f0e8"/>
<ellipse cx="360.3" cy="928.3" rx="43.5" ry="6.3" fill="#16f0e8"/>
<path d="M175.7 931.5 Q188.7 929.5 201.7 931.5 Q188.7 933.5 175.7 931.5 Z" fill="#2d8cfb"/>
<path d="M649.5 931.5 Q677.5 923.5 705.5 931.5 Q677.5 939.5 649.5 931.5 Z" fill="#2d8cfb"/>
<path d="M661.0 905.0 Q670.0 903.0 679.0 905.0 Q670.0 907.0 661.0 905.0 Z" fill="#2d8cfb"/>
<path d="M655.7 1008.8 Q680.7 1003.6 705.7 1008.8 Q680.7 1014.0 655.7 1008.8 Z" fill="#1cc5fb"/>
<path d="M627.7 888.5C627.7 888.5 618.1 891.5 627.7 893.1C637.2 894.7 669.3 896.5 684.9 898.0C700.4 899.5 712.1 900.3 720.9 902.3C729.7 904.2 729.4 906.8 737.9 909.7C746.3 912.5 762.9 916.9 771.8 919.2C780.6 921.5 790.8 923.4 790.8 923.4C790.8 923.4 790.8 888.5 790.8 888.5C790.8 888.5 627.7 888.5 627.7 888.5Z" fill="#16f0e8"/>
</g></g>
<g stroke="#102038" fill="none">
<path d="M80.0 893.1 H772.7" stroke-width="3" opacity="0.42"/>
<path d="M80.0 1113.8 H772.7 M80.3 892.3 V1114.0 M772.4 892.3 V1114.0" stroke-width="2.2" opacity="0.55"/>
<path d="M72.0 892.6 H80.0 M772.7 892.6 H780.7M80.0 883.8 V892.3 M80.0 1114.0 V1122.5M166.6 883.8 V892.3 M166.6 1114.0 V1122.5M253.2 883.8 V892.3 M253.2 1114.0 V1122.5M339.8 883.8 V892.3 M339.8 1114.0 V1122.5M426.4 883.8 V892.3 M426.4 1114.0 V1122.5M512.9 883.8 V892.3 M512.9 1114.0 V1122.5M599.5 883.8 V892.3 M599.5 1114.0 V1122.5M686.1 883.8 V892.3 M686.1 1114.0 V1122.5M772.7 883.8 V892.3 M772.7 1114.0 V1122.5M72.0 943.8 H80.0M72.0 996.1 H80.0M72.0 1048.5 H80.0M72.0 1101.0 H80.0M772.7 1023.1 H780.7" stroke="#444" stroke-width="1.3" opacity="0.9"/>
</g>
<text x="79.5" y="1143.8" text-anchor="middle" font-family="&quot;DejaVu Sans&quot;, &quot;Liberation Sans&quot;, sans-serif" font-size="18" fill="#333">0</text>
<text x="166.1" y="1143.8" text-anchor="middle" font-family="&quot;DejaVu Sans&quot;, &quot;Liberation Sans&quot;, sans-serif" font-size="18" fill="#333">3</text>
<text x="252.7" y="1143.8" text-anchor="middle" font-family="&quot;DejaVu Sans&quot;, &quot;Liberation Sans&quot;, sans-serif" font-size="18" fill="#333">6</text>
<text x="339.3" y="1143.8" text-anchor="middle" font-family="&quot;DejaVu Sans&quot;, &quot;Liberation Sans&quot;, sans-serif" font-size="18" fill="#333">9</text>
<text x="425.9" y="1143.8" text-anchor="middle" font-family="&quot;DejaVu Sans&quot;, &quot;Liberation Sans&quot;, sans-serif" font-size="18" fill="#333">12</text>
<text x="512.4" y="1143.8" text-anchor="middle" font-family="&quot;DejaVu Sans&quot;, &quot;Liberation Sans&quot;, sans-serif" font-size="18" fill="#333">15</text>
<text x="599.0" y="1143.8" text-anchor="middle" font-family="&quot;DejaVu Sans&quot;, &quot;Liberation Sans&quot;, sans-serif" font-size="18" fill="#333">18</text>
<text x="685.6" y="1143.8" text-anchor="middle" font-family="&quot;DejaVu Sans&quot;, &quot;Liberation Sans&quot;, sans-serif" font-size="18" fill="#333">21</text>
<text x="772.2" y="1143.8" text-anchor="middle" font-family="&quot;DejaVu Sans&quot;, &quot;Liberation Sans&quot;, sans-serif" font-size="18" fill="#333">24</text>
<text x="69.2" y="899.4" text-anchor="end" font-family="&quot;DejaVu Sans&quot;, &quot;Liberation Sans&quot;, sans-serif" font-size="18" fill="#333">0</text>
<text x="69.2" y="950.7" text-anchor="end" font-family="&quot;DejaVu Sans&quot;, &quot;Liberation Sans&quot;, sans-serif" font-size="18" fill="#333">20</text>
<text x="69.2" y="1003.0" text-anchor="end" font-family="&quot;DejaVu Sans&quot;, &quot;Liberation Sans&quot;, sans-serif" font-size="18" fill="#333">40</text>
<text x="69.2" y="1055.4" text-anchor="end" font-family="&quot;DejaVu Sans&quot;, &quot;Liberation Sans&quot;, sans-serif" font-size="18" fill="#333">60</text>
<text x="69.2" y="1107.9" text-anchor="end" font-family="&quot;DejaVu Sans&quot;, &quot;Liberation Sans&quot;, sans-serif" font-size="18" fill="#333">80</text>
<text x="101.0" y="1047.4" font-family="&quot;DejaVu Sans&quot;, &quot;Liberation Sans&quot;, sans-serif" font-weight="bold" font-size="27.5" fill="#fff" textLength="220.0" lengthAdjust="spacingAndGlyphs">Late log phase</text>
<text x="101.0" y="1080.3" font-family="&quot;DejaVu Sans&quot;, &quot;Liberation Sans&quot;, sans-serif" font-weight="bold" font-size="27.5" fill="#fff" textLength="250.5" lengthAdjust="spacingAndGlyphs">High cell density</text>
<g filter="url(#bl)">
<rect x="799.3" y="891.20" width="28.8" height="18.18" fill="#f02a16"/>
<rect x="799.3" y="909.08" width="28.8" height="18.18" fill="#fa6a1e"/>
<rect x="799.3" y="926.97" width="28.8" height="18.18" fill="#fa9a1e"/>
<rect x="799.3" y="944.85" width="28.8" height="18.18" fill="#f8d428"/>
<rect x="799.3" y="962.74" width="28.8" height="18.18" fill="#e6f028"/>
<rect x="799.3" y="980.62" width="28.8" height="18.18" fill="#96f05a"/>
<rect x="799.3" y="998.51" width="28.8" height="18.18" fill="#46f0a0"/>
<rect x="799.3" y="1016.39" width="28.8" height="18.18" fill="#16f0e8"/>
<rect x="799.3" y="1034.28" width="28.8" height="18.18" fill="#1cc5fb"/>
<rect x="799.3" y="1052.16" width="28.8" height="18.18" fill="#2d8cfb"/>
<rect x="799.3" y="1070.05" width="28.8" height="18.18" fill="#4650fa"/>
<rect x="799.3" y="1087.93" width="28.8" height="36.07" fill="#5a14fa"/>
</g>
<rect x="799.3" y="891.2" width="28.8" height="232.5" fill="none" stroke="#5a3030" stroke-width="1" opacity="0.7"/>
<text x="832.1" y="913.9" font-family="&quot;DejaVu Sans&quot;, &quot;Liberation Sans&quot;, sans-serif" font-size="13" fill="#333">50</text>
<text x="832.1" y="1004.3" font-family="&quot;DejaVu Sans&quot;, &quot;Liberation Sans&quot;, sans-serif" font-size="13" fill="#333">25</text>
<text x="832.1" y="1092.9" font-family="&quot;DejaVu Sans&quot;, &quot;Liberation Sans&quot;, sans-serif" font-size="13" fill="#333">0</text>
<text transform="translate(30.1,687.5) rotate(-90)" font-family="&quot;DejaVu Sans&quot;, &quot;Liberation Sans&quot;, sans-serif" font-size="32.5" fill="#1a1a1a" textLength="88.9" lengthAdjust="spacingAndGlyphs">Depth</text>
<text transform="translate(30.1,586.3) rotate(-90)" font-family="&quot;DejaVu Sans&quot;, &quot;Liberation Sans&quot;, sans-serif" font-size="32.5" fill="#1a1a1a" textLength="14.5" lengthAdjust="spacingAndGlyphs">(</text>
<text transform="translate(30.1,572.9) rotate(-90)" font-family="&quot;DejaVu Sans&quot;, &quot;Liberation Sans&quot;, sans-serif" font-size="32.5" fill="#1a1a1a" textLength="40.4" lengthAdjust="spacingAndGlyphs">cm</text>
<text transform="translate(30.1,531.1) rotate(-90)" font-family="&quot;DejaVu Sans&quot;, &quot;Liberation Sans&quot;, sans-serif" font-size="32.5" fill="#1a1a1a" textLength="14.5" lengthAdjust="spacingAndGlyphs">)</text>
<text x="330.5" y="1183.8" font-family="&quot;DejaVu Sans&quot;, &quot;Liberation Sans&quot;, sans-serif" font-size="28.5" fill="#1a1a1a" textLength="133.5" lengthAdjust="spacingAndGlyphs">Time (h)</text>
<text x="864.6" y="32.6" font-family="&quot;Liberation Sans&quot;, sans-serif" font-weight="bold" font-size="40" fill="#000" textLength="33" lengthAdjust="spacingAndGlyphs">B</text>
<rect x="986.5" y="12.3" width="695.2" height="45.0" fill="#fff" stroke="#000" stroke-width="2"/>
<rect x="1245.4" y="12.3" width="343.9" height="45.0" fill="#000"/>
<text x="1115.5" y="42.7" text-anchor="middle" font-family="&quot;DejaVu Sans&quot;, &quot;Liberation Sans&quot;, sans-serif" font-size="20" fill="#111" textLength="51.5" lengthAdjust="spacingAndGlyphs">Light</text>
<text x="1417.5" y="42.7" text-anchor="middle" font-family="&quot;DejaVu Sans&quot;, &quot;Liberation Sans&quot;, sans-serif" font-size="20" fill="#fff" textLength="48" lengthAdjust="spacingAndGlyphs">Dark</text>
<text x="1636.2" y="42.7" text-anchor="middle" font-family="&quot;DejaVu Sans&quot;, &quot;Liberation Sans&quot;, sans-serif" font-size="20" fill="#111" textLength="51.5" lengthAdjust="spacingAndGlyphs">Light</text>
<path d="M982.2 68.8 H1681.7 V154 M1681.7 310 V472.8 H982.2 M990.2 68.8 V481.8" stroke="#000" stroke-width="1.9" fill="none"/>
<path d="M1076.6 472.8 V481.8M1163.1 472.8 V481.8M1249.5 472.8 V481.8M1336.0 472.8 V481.8M1422.4 472.8 V481.8M1508.8 472.8 V481.8M1595.3 472.8 V481.8M1681.7 472.8 V481.8M982.2 68.8 H990.2M982.2 149.6 H990.2M982.2 230.4 H990.2M982.2 311.2 H990.2M982.2 392.0 H990.2M982.2 472.8 H990.2" stroke="#000" stroke-width="1.6" fill="none"/>
<text x="966" y="75.8" text-anchor="end" font-family="&quot;DejaVu Sans&quot;, &quot;Liberation Sans&quot;, sans-serif" font-size="19" fill="#222" textLength="25.5" lengthAdjust="spacingAndGlyphs">25</text>
<text x="966" y="156.6" text-anchor="end" font-family="&quot;DejaVu Sans&quot;, &quot;Liberation Sans&quot;, sans-serif" font-size="19" fill="#222" textLength="25.5" lengthAdjust="spacingAndGlyphs">20</text>
<text x="966" y="237.4" text-anchor="end" font-family="&quot;DejaVu Sans&quot;, &quot;Liberation Sans&quot;, sans-serif" font-size="19" fill="#222" textLength="25.5" lengthAdjust="spacingAndGlyphs">15</text>
<text x="966" y="318.2" text-anchor="end" font-family="&quot;DejaVu Sans&quot;, &quot;Liberation Sans&quot;, sans-serif" font-size="19" fill="#222" textLength="25.5" lengthAdjust="spacingAndGlyphs">10</text>
<text x="966" y="399.0" text-anchor="end" font-family="&quot;DejaVu Sans&quot;, &quot;Liberation Sans&quot;, sans-serif" font-size="19" fill="#222" textLength="12.8" lengthAdjust="spacingAndGlyphs">5</text>
<text x="966" y="479.8" text-anchor="end" font-family="&quot;DejaVu Sans&quot;, &quot;Liberation Sans&quot;, sans-serif" font-size="19" fill="#222" textLength="12.8" lengthAdjust="spacingAndGlyphs">0</text>
<text x="990.2" y="514" text-anchor="middle" font-family="&quot;DejaVu Sans&quot;, &quot;Liberation Sans&quot;, sans-serif" font-size="19" fill="#222">0</text>
<text x="1076.6" y="514" text-anchor="middle" font-family="&quot;DejaVu Sans&quot;, &quot;Liberation Sans&quot;, sans-serif" font-size="19" fill="#222">3</text>
<text x="1163.1" y="514" text-anchor="middle" font-family="&quot;DejaVu Sans&quot;, &quot;Liberation Sans&quot;, sans-serif" font-size="19" fill="#222">6</text>
<text x="1249.5" y="514" text-anchor="middle" font-family="&quot;DejaVu Sans&quot;, &quot;Liberation Sans&quot;, sans-serif" font-size="19" fill="#222">9</text>
<text x="1336.0" y="514" text-anchor="middle" font-family="&quot;DejaVu Sans&quot;, &quot;Liberation Sans&quot;, sans-serif" font-size="19" fill="#222">12</text>
<text x="1422.4" y="514" text-anchor="middle" font-family="&quot;DejaVu Sans&quot;, &quot;Liberation Sans&quot;, sans-serif" font-size="19" fill="#222">15</text>
<text x="1508.8" y="514" text-anchor="middle" font-family="&quot;DejaVu Sans&quot;, &quot;Liberation Sans&quot;, sans-serif" font-size="19" fill="#222">18</text>
<text x="1595.3" y="514" text-anchor="middle" font-family="&quot;DejaVu Sans&quot;, &quot;Liberation Sans&quot;, sans-serif" font-size="19" fill="#222">21</text>
<text x="1681.7" y="514" text-anchor="middle" font-family="&quot;DejaVu Sans&quot;, &quot;Liberation Sans&quot;, sans-serif" font-size="19" fill="#222">24</text>
<text x="1278.5" y="555.6" font-family="&quot;DejaVu Sans&quot;, &quot;Liberation Sans&quot;, sans-serif" font-size="30.5" fill="#222" textLength="133" lengthAdjust="spacingAndGlyphs">Time (h)</text>
<text transform="translate(913.0,433.4) rotate(-90)" font-family="&quot;DejaVu Sans&quot;, &quot;Liberation Sans&quot;, sans-serif" font-size="33.0" fill="#222" textLength="24.5" lengthAdjust="spacingAndGlyphs">O</text>
<text transform="translate(918.6,408.5) rotate(-90)" font-family="&quot;DejaVu Sans&quot;, &quot;Liberation Sans&quot;, sans-serif" font-size="22.0" fill="#222" textLength="12.4" lengthAdjust="spacingAndGlyphs">2</text>
<text transform="translate(903.5,393.6) rotate(-90)" font-family="&quot;DejaVu Sans&quot;, &quot;Liberation Sans&quot;, sans-serif" font-size="24.0" fill="#222" textLength="9.3" lengthAdjust="spacingAndGlyphs">-</text>
<text transform="translate(913.0,368.9) rotate(-90)" font-family="&quot;DejaVu Sans&quot;, &quot;Liberation Sans&quot;, sans-serif" font-size="33.0" fill="#222" textLength="66.4" lengthAdjust="spacingAndGlyphs">level</text>
<text transform="translate(913.0,288.5) rotate(-90)" font-family="&quot;DejaVu Sans&quot;, &quot;Liberation Sans&quot;, sans-serif" font-size="33.0" fill="#222" textLength="14.5" lengthAdjust="spacingAndGlyphs">(</text>
<text transform="translate(913.0,272.6) rotate(-90)" font-family="&quot;DejaVu Sans&quot;, &quot;Liberation Sans&quot;, sans-serif" font-size="33.0" fill="#222" textLength="19.5" lengthAdjust="spacingAndGlyphs">×</text>
<text transform="translate(913.0,247.5) rotate(-90)" font-family="&quot;DejaVu Sans&quot;, &quot;Liberation Sans&quot;, sans-serif" font-size="33.0" fill="#222" textLength="39.6" lengthAdjust="spacingAndGlyphs">10</text>
<text transform="translate(902.0,210.1) rotate(-90)" font-family="&quot;DejaVu Sans&quot;, &quot;Liberation Sans&quot;, sans-serif" font-size="21.0" fill="#222" textLength="10.7" lengthAdjust="spacingAndGlyphs">5</text>
<text transform="translate(913.0,188.9) rotate(-90)" font-family="&quot;DejaVu Sans&quot;, &quot;Liberation Sans&quot;, sans-serif" font-size="33.0" fill="#222" textLength="60.6" lengthAdjust="spacingAndGlyphs">RLU</text>
<text transform="translate(913.0,128.6) rotate(-90)" font-family="&quot;DejaVu Sans&quot;, &quot;Liberation Sans&quot;, sans-serif" font-size="33.0" fill="#222" textLength="14.5" lengthAdjust="spacingAndGlyphs">)</text>
<text transform="translate(916.2,439.7) rotate(-90)" text-anchor="middle" font-family="&quot;DejaVu Sans&quot;, &quot;Liberation Sans&quot;, sans-serif" font-size="36" fill="#111">•</text>
<path d="M1008.1 101.9 H1055.6" stroke="#1a1a1a" stroke-width="1.8"/><circle cx="1033.6" cy="101.9" r="6.4" fill="#fff" stroke="#1a1a1a" stroke-width="1.7"/><text x="1063.3" y="110.5" font-family="&quot;DejaVu Sans&quot;, &quot;Liberation Sans&quot;, sans-serif" font-size="23" fill="#222" textLength="173.7" lengthAdjust="spacingAndGlyphs">Early log phase</text>
<path d="M1008.1 136.8 H1055.6" stroke="#1a1a1a" stroke-width="1.8"/><path d="M1033.6 131.1 L1039.3 136.8 L1033.6 142.5 L1027.9 136.8 Z" fill="#7f7f7f" stroke="#1a1a1a" stroke-width="1.5"/><text x="1063.3" y="145.4" font-family="&quot;DejaVu Sans&quot;, &quot;Liberation Sans&quot;, sans-serif" font-size="23" fill="#222" textLength="207.6" lengthAdjust="spacingAndGlyphs">Middle cell density</text>
<path d="M1297.9 101.9 H1345.4" stroke="#1a1a1a" stroke-width="1.8"/><path d="M1323.4 96.2 L1329.1 101.9 L1323.4 107.6 L1317.7 101.9 Z" fill="#fff" stroke="#1a1a1a" stroke-width="1.5"/><text x="1353.1" y="110.5" font-family="&quot;DejaVu Sans&quot;, &quot;Liberation Sans&quot;, sans-serif" font-size="23" fill="#222" textLength="181.0" lengthAdjust="spacingAndGlyphs">Low cell density</text>
<path d="M1297.9 136.8 H1345.4" stroke="#1a1a1a" stroke-width="1.8"/><path d="M1323.4 131.1 L1329.1 136.8 L1323.4 142.5 L1317.7 136.8 Z" fill="#000" stroke="#000" stroke-width="1.5"/><text x="1353.1" y="145.4" font-family="&quot;DejaVu Sans&quot;, &quot;Liberation Sans&quot;, sans-serif" font-size="23" fill="#222" textLength="186.3" lengthAdjust="spacingAndGlyphs">High cell density</text>
<clipPath id="cpB"><rect x="990.2" y="68.8" width="692.4" height="404.0"/></clipPath>
<g clip-path="url(#cpB)">
<path d="M990.2 303.6 V463.7M983.7 303.6 H996.7M983.7 340.0 H996.7M983.7 463.7 H996.7" stroke="#4a4a4a" stroke-width="1.6" fill="none"/>
<path d="M1076.6 214.0 V298.7M1076.6 327.8 V349.1M1076.6 401.7 V450.1M1070.1 214.0 H1083.1M1070.1 298.7 H1083.1M1070.1 327.8 H1083.1M1070.1 349.1 H1083.1M1070.1 401.7 H1083.1M1070.1 450.1 H1083.1" stroke="#4a4a4a" stroke-width="1.6" fill="none"/>
<path d="M1163.1 182.7 V418.8M1156.6 182.7 H1169.6M1156.6 209.7 H1169.6M1156.6 307.0 H1169.6M1156.6 369.0 H1169.6M1156.6 377.5 H1169.6M1156.6 418.8 H1169.6" stroke="#4a4a4a" stroke-width="1.6" fill="none"/>
<path d="M1249.5 254.7 V349.1M1249.5 380.4 V462.9M1243.0 254.7 H1256.0M1243.0 282.3 H1256.0M1243.0 340.0 H1256.0M1243.0 349.1 H1256.0M1243.0 380.4 H1256.0M1243.0 452.9 H1256.0" stroke="#4a4a4a" stroke-width="1.6" fill="none"/>
<path d="M1336.0 351.4 V452.9M1329.5 351.4 H1342.5M1329.5 411.7 H1342.5M1329.5 445.8 H1342.5M1329.5 452.9 H1342.5" stroke="#4a4a4a" stroke-width="1.6" fill="none"/>
<path d="M1422.4 379.8 V452.0M1415.9 379.8 H1428.9M1415.9 387.5 H1428.9" stroke="#4a4a4a" stroke-width="1.6" fill="none"/>
<path d="M1508.8 339.1 V440.1M1502.3 339.1 H1515.3M1502.3 391.8 H1515.3M1502.3 400.3 H1515.3M1502.3 440.1 H1515.3" stroke="#4a4a4a" stroke-width="1.6" fill="none"/>
<path d="M1595.3 243.3 V322.1M1595.3 378.4 V415.9M1595.3 442.4 V455.7M1588.8 243.3 H1601.8M1588.8 322.1 H1601.8M1588.8 378.4 H1601.8M1588.8 442.4 H1601.8" stroke="#4a4a4a" stroke-width="1.6" fill="none"/>
<path d="M1681.4 154.3 V417.3M1674.9 154.3 H1687.9M1674.9 249.5 H1687.9M1674.9 285.1 H1687.9M1674.9 309.3 H1687.9M1674.9 354.8 H1687.9M1674.9 367.6 H1687.9M1674.9 401.7 H1687.9M1674.9 417.3 H1687.9" stroke="#4a4a4a" stroke-width="1.6" fill="none"/>
</g>
<polyline points="990.2,418.8 1076.6,425.3 1163.1,394.6 1249.5,462.0 1336.0,470.0 1422.4,470.0 1508.8,470.0 1595.3,455.7 1681.7,385.5" fill="none" stroke="#1a1a1a" stroke-width="1.6"/><path d="M990.2 406.5 L1002.5 418.8 L990.2 431.1 L977.9 418.8 Z" fill="#fff" stroke="#1a1a1a" stroke-width="1.5"/><path d="M1076.6 413.0 L1088.9 425.3 L1076.6 437.6 L1064.3 425.3 Z" fill="#fff" stroke="#1a1a1a" stroke-width="1.5"/><path d="M1163.1 382.3 L1175.4 394.6 L1163.1 406.9 L1150.8 394.6 Z" fill="#fff" stroke="#1a1a1a" stroke-width="1.5"/><path d="M1249.5 449.7 L1261.8 462.0 L1249.5 474.3 L1237.2 462.0 Z" fill="#fff" stroke="#1a1a1a" stroke-width="1.5"/><path d="M1336.0 457.7 L1348.2 470.0 L1336.0 482.3 L1323.7 470.0 Z" fill="#fff" stroke="#1a1a1a" stroke-width="1.5"/><path d="M1422.4 457.7 L1434.7 470.0 L1422.4 482.3 L1410.1 470.0 Z" fill="#fff" stroke="#1a1a1a" stroke-width="1.5"/><path d="M1508.8 457.7 L1521.1 470.0 L1508.8 482.3 L1496.5 470.0 Z" fill="#fff" stroke="#1a1a1a" stroke-width="1.5"/><path d="M1595.3 443.4 L1607.6 455.7 L1595.3 468.0 L1583.0 455.7 Z" fill="#fff" stroke="#1a1a1a" stroke-width="1.5"/><path d="M1681.7 373.2 L1694.0 385.5 L1681.7 397.8 L1669.4 385.5 Z" fill="#fff" stroke="#1a1a1a" stroke-width="1.5"/>
<polyline points="990.2,391.8 1076.6,255.2 1163.1,278.6 1249.5,315.0 1336.0,424.5 1422.4,452.0 1508.8,421.6 1595.3,415.9 1681.7,229.6" fill="none" stroke="#1a1a1a" stroke-width="1.6"/><circle cx="988.8" cy="391.8" r="11.6" fill="#fff" stroke="#1a1a1a" stroke-width="1.7"/><circle cx="1075.2" cy="255.2" r="11.6" fill="#fff" stroke="#1a1a1a" stroke-width="1.7"/><circle cx="1161.7" cy="278.6" r="11.6" fill="#fff" stroke="#1a1a1a" stroke-width="1.7"/><circle cx="1248.1" cy="315.0" r="11.6" fill="#fff" stroke="#1a1a1a" stroke-width="1.7"/><circle cx="1334.5" cy="424.5" r="11.6" fill="#fff" stroke="#1a1a1a" stroke-width="1.7"/><circle cx="1421.0" cy="452.0" r="11.6" fill="#fff" stroke="#1a1a1a" stroke-width="1.7"/><circle cx="1507.4" cy="421.6" r="11.6" fill="#fff" stroke="#1a1a1a" stroke-width="1.7"/><circle cx="1593.9" cy="415.9" r="11.6" fill="#fff" stroke="#1a1a1a" stroke-width="1.7"/><circle cx="1680.3" cy="229.6" r="11.6" fill="#fff" stroke="#1a1a1a" stroke-width="1.7"/>
<polyline points="990.2,362.7 1076.6,337.7 1163.1,258.9 1249.5,297.3 1336.0,428.7 1422.4,400.3 1508.8,411.1 1595.3,281.7 1681.7,268.3" fill="none" stroke="#1a1a1a" stroke-width="1.6"/><path d="M990.2 350.4 L1002.5 362.7 L990.2 375.0 L977.9 362.7 Z" fill="#7f7f7f" stroke="#1a1a1a" stroke-width="1.5"/><path d="M1076.6 325.4 L1088.9 337.7 L1076.6 350.0 L1064.3 337.7 Z" fill="#7f7f7f" stroke="#1a1a1a" stroke-width="1.5"/><path d="M1163.1 246.6 L1175.4 258.9 L1163.1 271.2 L1150.8 258.9 Z" fill="#7f7f7f" stroke="#1a1a1a" stroke-width="1.5"/><path d="M1249.5 285.0 L1261.8 297.3 L1249.5 309.6 L1237.2 297.3 Z" fill="#7f7f7f" stroke="#1a1a1a" stroke-width="1.5"/><path d="M1336.0 416.4 L1348.2 428.7 L1336.0 441.0 L1323.7 428.7 Z" fill="#7f7f7f" stroke="#1a1a1a" stroke-width="1.5"/><path d="M1422.4 388.0 L1434.7 400.3 L1422.4 412.6 L1410.1 400.3 Z" fill="#7f7f7f" stroke="#1a1a1a" stroke-width="1.5"/><path d="M1508.8 398.8 L1521.1 411.1 L1508.8 423.4 L1496.5 411.1 Z" fill="#7f7f7f" stroke="#1a1a1a" stroke-width="1.5"/><path d="M1595.3 269.4 L1607.6 281.7 L1595.3 294.0 L1583.0 281.7 Z" fill="#7f7f7f" stroke="#1a1a1a" stroke-width="1.5"/><path d="M1681.7 256.0 L1694.0 268.3 L1681.7 280.6 L1669.4 268.3 Z" fill="#7f7f7f" stroke="#1a1a1a" stroke-width="1.5"/>
<polyline points="990.2,444.4 1076.6,415.9 1163.1,397.4 1249.5,417.3 1336.0,394.0 1422.4,411.1 1508.8,368.4 1595.3,394.0 1681.7,385.5" fill="none" stroke="#1a1a1a" stroke-width="1.6"/><path d="M990.2 432.1 L1002.5 444.4 L990.2 456.7 L977.9 444.4 Z" fill="#000" stroke="#000" stroke-width="1.5"/><path d="M1076.6 403.6 L1088.9 415.9 L1076.6 428.2 L1064.3 415.9 Z" fill="#000" stroke="#000" stroke-width="1.5"/><path d="M1163.1 385.1 L1175.4 397.4 L1163.1 409.7 L1150.8 397.4 Z" fill="#000" stroke="#000" stroke-width="1.5"/><path d="M1249.5 405.0 L1261.8 417.3 L1249.5 429.6 L1237.2 417.3 Z" fill="#000" stroke="#000" stroke-width="1.5"/><path d="M1336.0 381.7 L1348.2 394.0 L1336.0 406.3 L1323.7 394.0 Z" fill="#000" stroke="#000" stroke-width="1.5"/><path d="M1422.4 398.8 L1434.7 411.1 L1422.4 423.4 L1410.1 411.1 Z" fill="#000" stroke="#000" stroke-width="1.5"/><path d="M1508.8 356.1 L1521.1 368.4 L1508.8 380.7 L1496.5 368.4 Z" fill="#000" stroke="#000" stroke-width="1.5"/><path d="M1595.3 381.7 L1607.6 394.0 L1595.3 406.3 L1583.0 394.0 Z" fill="#000" stroke="#000" stroke-width="1.5"/><path d="M1681.7 373.2 L1694.0 385.5 L1681.7 397.8 L1669.4 385.5 Z" fill="#000" stroke="#000" stroke-width="1.5"/>
<text x="865.3" y="595.5" font-family="&quot;Liberation Sans&quot;, sans-serif" font-weight="bold" font-size="40" fill="#000" textLength="31.5" lengthAdjust="spacingAndGlyphs">C</text>
<rect x="983.3" y="605.4" width="694.6" height="43.9" fill="#fff" stroke="#000" stroke-width="2"/>
<rect x="1241.6" y="605.4" width="344.0" height="43.9" fill="#000"/>
<text x="1111.7" y="634.8" text-anchor="middle" font-family="&quot;DejaVu Sans&quot;, &quot;Liberation Sans&quot;, sans-serif" font-size="20" fill="#111" textLength="51.5" lengthAdjust="spacingAndGlyphs">Light</text>
<text x="1413.5" y="634.8" text-anchor="middle" font-family="&quot;DejaVu Sans&quot;, &quot;Liberation Sans&quot;, sans-serif" font-size="20" fill="#fff" textLength="48" lengthAdjust="spacingAndGlyphs">Dark</text>
<text x="1632.0" y="634.8" text-anchor="middle" font-family="&quot;DejaVu Sans&quot;, &quot;Liberation Sans&quot;, sans-serif" font-size="20" fill="#111" textLength="51.5" lengthAdjust="spacingAndGlyphs">Light</text>
<path d="M975.8 661.0 H1676.3 V1067.4 H975.8 M983.8 661.0 V1076.4" stroke="#000" stroke-width="1.9" fill="none"/>
<path d="M1070.4 1067.4 V1076.4M1156.9 1067.4 V1076.4M1243.5 1067.4 V1076.4M1330.0 1067.4 V1076.4M1416.6 1067.4 V1076.4M1503.2 1067.4 V1076.4M1589.7 1067.4 V1076.4M1676.3 1067.4 V1076.4M975.8 661.0 H983.8M975.8 742.3 H983.8M975.8 823.6 H983.8M975.8 904.8 H983.8M975.8 986.1 H983.8M975.8 1067.4 H983.8" stroke="#000" stroke-width="1.6" fill="none"/>
<text x="961.5" y="668.6" text-anchor="end" font-family="&quot;DejaVu Sans&quot;, &quot;Liberation Sans&quot;, sans-serif" font-size="21" fill="#222" textLength="43.5" lengthAdjust="spacingAndGlyphs">500</text>
<text x="961.5" y="749.9" text-anchor="end" font-family="&quot;DejaVu Sans&quot;, &quot;Liberation Sans&quot;, sans-serif" font-size="21" fill="#222" textLength="43.5" lengthAdjust="spacingAndGlyphs">400</text>
<text x="961.5" y="831.2" text-anchor="end" font-family="&quot;DejaVu Sans&quot;, &quot;Liberation Sans&quot;, sans-serif" font-size="21" fill="#222" textLength="43.5" lengthAdjust="spacingAndGlyphs">300</text>
<text x="961.5" y="912.4" text-anchor="end" font-family="&quot;DejaVu Sans&quot;, &quot;Liberation Sans&quot;, sans-serif" font-size="21" fill="#222" textLength="43.5" lengthAdjust="spacingAndGlyphs">200</text>
<text x="961.5" y="993.7" text-anchor="end" font-family="&quot;DejaVu Sans&quot;, &quot;Liberation Sans&quot;, sans-serif" font-size="21" fill="#222" textLength="43.5" lengthAdjust="spacingAndGlyphs">100</text>
<text x="961.5" y="1075.0" text-anchor="end" font-family="&quot;DejaVu Sans&quot;, &quot;Liberation Sans&quot;, sans-serif" font-size="21" fill="#222" textLength="14.5" lengthAdjust="spacingAndGlyphs">0</text>
<text x="983.8" y="1108.5" text-anchor="middle" font-family="&quot;DejaVu Sans&quot;, &quot;Liberation Sans&quot;, sans-serif" font-size="19.5" fill="#222" textLength="13.3" lengthAdjust="spacingAndGlyphs">0</text>
<text x="1070.4" y="1108.5" text-anchor="middle" font-family="&quot;DejaVu Sans&quot;, &quot;Liberation Sans&quot;, sans-serif" font-size="19.5" fill="#222" textLength="13.3" lengthAdjust="spacingAndGlyphs">3</text>
<text x="1156.9" y="1108.5" text-anchor="middle" font-family="&quot;DejaVu Sans&quot;, &quot;Liberation Sans&quot;, sans-serif" font-size="19.5" fill="#222" textLength="13.3" lengthAdjust="spacingAndGlyphs">6</text>
<text x="1243.5" y="1108.5" text-anchor="middle" font-family="&quot;DejaVu Sans&quot;, &quot;Liberation Sans&quot;, sans-serif" font-size="19.5" fill="#222" textLength="13.3" lengthAdjust="spacingAndGlyphs">9</text>
<text x="1330.0" y="1108.5" text-anchor="middle" font-family="&quot;DejaVu Sans&quot;, &quot;Liberation Sans&quot;, sans-serif" font-size="19.5" fill="#222" textLength="26.6" lengthAdjust="spacingAndGlyphs">12</text>
<text x="1416.6" y="1108.5" text-anchor="middle" font-family="&quot;DejaVu Sans&quot;, &quot;Liberation Sans&quot;, sans-serif" font-size="19.5" fill="#222" textLength="26.6" lengthAdjust="spacingAndGlyphs">15</text>
<text x="1503.2" y="1108.5" text-anchor="middle" font-family="&quot;DejaVu Sans&quot;, &quot;Liberation Sans&quot;, sans-serif" font-size="19.5" fill="#222" textLength="26.6" lengthAdjust="spacingAndGlyphs">18</text>
<text x="1589.7" y="1108.5" text-anchor="middle" font-family="&quot;DejaVu Sans&quot;, &quot;Liberation Sans&quot;, sans-serif" font-size="19.5" fill="#222" textLength="26.6" lengthAdjust="spacingAndGlyphs">21</text>
<text x="1676.3" y="1108.5" text-anchor="middle" font-family="&quot;DejaVu Sans&quot;, &quot;Liberation Sans&quot;, sans-serif" font-size="19.5" fill="#222" textLength="26.6" lengthAdjust="spacingAndGlyphs">24</text>
<text x="1261.3" y="1154.3" font-family="&quot;DejaVu Sans&quot;, &quot;Liberation Sans&quot;, sans-serif" font-size="29" fill="#222" textLength="132.8" lengthAdjust="spacingAndGlyphs">Time (h)</text>
<text transform="translate(905.0,1053.0) rotate(-90)" font-family="&quot;DejaVu Sans&quot;, &quot;Liberation Sans&quot;, sans-serif" font-size="33.0" fill="#222" textLength="25.6" lengthAdjust="spacingAndGlyphs">O</text>
<text transform="translate(911.3,1027.3) rotate(-90)" font-family="&quot;DejaVu Sans&quot;, &quot;Liberation Sans&quot;, sans-serif" font-size="22.0" fill="#222" textLength="12.9" lengthAdjust="spacingAndGlyphs">2</text>
<text transform="translate(895.5,1011.7) rotate(-90)" font-family="&quot;DejaVu Sans&quot;, &quot;Liberation Sans&quot;, sans-serif" font-size="24.0" fill="#222" textLength="9.3" lengthAdjust="spacingAndGlyphs">-</text>
<text transform="translate(905.0,987.1) rotate(-90)" font-family="&quot;DejaVu Sans&quot;, &quot;Liberation Sans&quot;, sans-serif" font-size="33.0" fill="#222" textLength="163.0" lengthAdjust="spacingAndGlyphs">production</text>
<text transform="translate(905.0,816.0) rotate(-90)" font-family="&quot;DejaVu Sans&quot;, &quot;Liberation Sans&quot;, sans-serif" font-size="33.0" fill="#222" textLength="14.5" lengthAdjust="spacingAndGlyphs">(</text>
<text transform="translate(905.0,800.9) rotate(-90)" font-family="&quot;DejaVu Sans&quot;, &quot;Liberation Sans&quot;, sans-serif" font-size="33.0" fill="#222" textLength="64.7" lengthAdjust="spacingAndGlyphs">RLU</text>
<text transform="translate(905.0,730.6) rotate(-90)" font-family="&quot;DejaVu Sans&quot;, &quot;Liberation Sans&quot;, sans-serif" font-size="33.0" fill="#222" textLength="48.0" lengthAdjust="spacingAndGlyphs">cell</text>
<text transform="translate(895.5,683.1) rotate(-90)" font-family="&quot;DejaVu Sans&quot;, &quot;Liberation Sans&quot;, sans-serif" font-size="22.0" fill="#222" textLength="9.1" lengthAdjust="spacingAndGlyphs">-</text>
<text transform="translate(895.2,672.9) rotate(-90)" font-family="&quot;DejaVu Sans&quot;, &quot;Liberation Sans&quot;, sans-serif" font-size="20.0" fill="#222" textLength="12.2" lengthAdjust="spacingAndGlyphs">1</text>
<text transform="translate(905.0,661.9) rotate(-90)" font-family="&quot;DejaVu Sans&quot;, &quot;Liberation Sans&quot;, sans-serif" font-size="33.0" fill="#222" textLength="13.7" lengthAdjust="spacingAndGlyphs">)</text>
<text transform="translate(908.5,1059.2) rotate(-90)" text-anchor="middle" font-family="&quot;DejaVu Sans&quot;, &quot;Liberation Sans&quot;, sans-serif" font-size="37" fill="#111">•</text>
<path d="M1011.9 692.0 H1059.6" stroke="#1a1a1a" stroke-width="1.8"/><circle cx="1035.2" cy="692.0" r="6.4" fill="#fff" stroke="#1a1a1a" stroke-width="1.7"/><text x="1064.6" y="700.8" font-family="&quot;DejaVu Sans&quot;, &quot;Liberation Sans&quot;, sans-serif" font-size="23" fill="#222" textLength="173.7" lengthAdjust="spacingAndGlyphs">Early log phase</text>
<path d="M1011.9 726.6 H1059.6" stroke="#1a1a1a" stroke-width="1.8"/><path d="M1035.2 720.9 L1040.9 726.6 L1035.2 732.3 L1029.5 726.6 Z" fill="#fff" stroke="#1a1a1a" stroke-width="1.5"/><text x="1064.6" y="735.4" font-family="&quot;DejaVu Sans&quot;, &quot;Liberation Sans&quot;, sans-serif" font-size="23" fill="#222" textLength="181.3" lengthAdjust="spacingAndGlyphs">Low cell density</text>
<path d="M1011.9 759.6 H1059.6" stroke="#1a1a1a" stroke-width="1.8"/><path d="M1035.2 753.9 L1040.9 759.6 L1035.2 765.3 L1029.5 759.6 Z" fill="#7f7f7f" stroke="#1a1a1a" stroke-width="1.5"/><text x="1064.6" y="768.4" font-family="&quot;DejaVu Sans&quot;, &quot;Liberation Sans&quot;, sans-serif" font-size="23" fill="#222" textLength="208.9" lengthAdjust="spacingAndGlyphs">Middle cell density</text>
<path d="M1011.9 794.2 H1059.6" stroke="#1a1a1a" stroke-width="1.8"/><path d="M1035.2 788.5 L1040.9 794.2 L1035.2 799.9 L1029.5 794.2 Z" fill="#000" stroke="#000" stroke-width="1.5"/><text x="1064.6" y="803.0" font-family="&quot;DejaVu Sans&quot;, &quot;Liberation Sans&quot;, sans-serif" font-size="23" fill="#222" textLength="186.3" lengthAdjust="spacingAndGlyphs">High cell density</text>
<clipPath id="cpC"><rect x="983.8" y="661.0" width="692.5" height="406.4"/></clipPath>
<g clip-path="url(#cpC)">
<path d="M983.8 995.9 V1066.0M977.3 995.9 H990.3M977.3 1038.0 H990.3M977.3 1053.4 H990.3" stroke="#4a4a4a" stroke-width="1.6" fill="none"/>
<path d="M1070.4 968.7 V1042.2M1063.9 968.7 H1076.9M1063.9 984.7 H1076.9M1063.9 1035.2 H1076.9M1063.9 1042.2 H1076.9" stroke="#4a4a4a" stroke-width="1.6" fill="none"/>
<path d="M1156.9 904.8 V1026.8M1150.4 904.8 H1163.4M1150.4 925.0 H1163.4M1150.4 997.3 H1163.4M1150.4 1026.8 H1163.4" stroke="#4a4a4a" stroke-width="1.6" fill="none"/>
<path d="M1243.5 824.0 V871.8M1243.5 881.9 V943.2M1243.5 988.4 V1012.7M1237.0 824.0 H1250.0M1237.0 871.8 H1250.0M1237.0 881.9 H1250.0M1237.0 943.2 H1250.0M1237.0 988.4 H1250.0M1237.0 1012.7 H1250.0" stroke="#4a4a4a" stroke-width="1.6" fill="none"/>
<path d="M1330.0 879.6 V956.7M1330.0 989.5 V1056.2M1323.5 879.6 H1336.5M1323.5 956.7 H1336.5M1323.5 989.5 H1336.5M1323.5 1012.7 H1336.5M1323.5 1042.2 H1336.5" stroke="#4a4a4a" stroke-width="1.6" fill="none"/>
<path d="M1416.6 916.9 V1035.2M1410.1 916.9 H1423.1M1410.1 957.5 H1423.1M1410.1 983.3 H1423.1" stroke="#4a4a4a" stroke-width="1.6" fill="none"/>
<path d="M1503.2 893.6 V999.3M1496.7 893.6 H1509.7M1496.7 955.3 H1509.7M1496.7 999.3 H1509.7" stroke="#4a4a4a" stroke-width="1.6" fill="none"/>
<path d="M1589.7 914.7 V1061.8M1583.2 914.7 H1596.2M1583.2 958.1 H1596.2M1583.2 964.3 H1596.2" stroke="#4a4a4a" stroke-width="1.6" fill="none"/>
<path d="M1676.0 943.2 V1014.7M1669.5 943.2 H1682.5M1669.5 1014.7 H1682.5" stroke="#4a4a4a" stroke-width="1.6" fill="none"/>
</g>
<polyline points="983.8,1021.2 1070.4,1006.3 1156.9,974.3 1243.5,845.7 1330.0,917.5 1416.6,972.1 1503.2,937.9 1589.7,936.2 1676.3,969.9" fill="none" stroke="#1a1a1a" stroke-width="1.6"/><circle cx="982.4" cy="1021.2" r="11.6" fill="#fff" stroke="#1a1a1a" stroke-width="1.7"/><circle cx="1069.0" cy="1006.3" r="11.6" fill="#fff" stroke="#1a1a1a" stroke-width="1.7"/><circle cx="1155.5" cy="974.3" r="11.6" fill="#fff" stroke="#1a1a1a" stroke-width="1.7"/><circle cx="1242.1" cy="845.7" r="11.6" fill="#fff" stroke="#1a1a1a" stroke-width="1.7"/><circle cx="1328.6" cy="917.5" r="11.6" fill="#fff" stroke="#1a1a1a" stroke-width="1.7"/><circle cx="1415.2" cy="972.1" r="11.6" fill="#fff" stroke="#1a1a1a" stroke-width="1.7"/><circle cx="1501.8" cy="937.9" r="11.6" fill="#fff" stroke="#1a1a1a" stroke-width="1.7"/><circle cx="1588.3" cy="936.2" r="11.6" fill="#fff" stroke="#1a1a1a" stroke-width="1.7"/><circle cx="1674.9" cy="969.9" r="11.6" fill="#fff" stroke="#1a1a1a" stroke-width="1.7"/>
<polyline points="983.8,1024.0 1070.4,1000.1 1156.9,947.7 1243.5,1000.7 1330.0,1027.3 1416.6,1035.2 1503.2,1040.2 1589.7,1019.2 1676.3,969.3" fill="none" stroke="#1a1a1a" stroke-width="1.6"/><path d="M983.8 1011.7 L996.1 1024.0 L983.8 1036.3 L971.5 1024.0 Z" fill="#fff" stroke="#1a1a1a" stroke-width="1.5"/><path d="M1070.4 987.8 L1082.7 1000.1 L1070.4 1012.4 L1058.1 1000.1 Z" fill="#fff" stroke="#1a1a1a" stroke-width="1.5"/><path d="M1156.9 935.4 L1169.2 947.7 L1156.9 960.0 L1144.6 947.7 Z" fill="#fff" stroke="#1a1a1a" stroke-width="1.5"/><path d="M1243.5 988.4 L1255.8 1000.7 L1243.5 1013.0 L1231.2 1000.7 Z" fill="#fff" stroke="#1a1a1a" stroke-width="1.5"/><path d="M1330.0 1015.0 L1342.3 1027.3 L1330.0 1039.6 L1317.8 1027.3 Z" fill="#fff" stroke="#1a1a1a" stroke-width="1.5"/><path d="M1416.6 1022.9 L1428.9 1035.2 L1416.6 1047.5 L1404.3 1035.2 Z" fill="#fff" stroke="#1a1a1a" stroke-width="1.5"/><path d="M1503.2 1027.9 L1515.5 1040.2 L1503.2 1052.5 L1490.9 1040.2 Z" fill="#fff" stroke="#1a1a1a" stroke-width="1.5"/><path d="M1589.7 1006.9 L1602.0 1019.2 L1589.7 1031.5 L1577.4 1019.2 Z" fill="#fff" stroke="#1a1a1a" stroke-width="1.5"/><path d="M1676.3 957.0 L1688.6 969.3 L1676.3 981.6 L1664.0 969.3 Z" fill="#fff" stroke="#1a1a1a" stroke-width="1.5"/>
<polyline points="983.8,1024.8 1070.4,1017.0 1156.9,983.9 1243.5,913.3 1330.0,999.3 1416.6,971.3 1503.2,979.1 1589.7,988.4 1676.3,997.9" fill="none" stroke="#1a1a1a" stroke-width="1.6"/><path d="M983.8 1012.5 L996.1 1024.8 L983.8 1037.1 L971.5 1024.8 Z" fill="#7f7f7f" stroke="#1a1a1a" stroke-width="1.5"/><path d="M1070.4 1004.7 L1082.7 1017.0 L1070.4 1029.3 L1058.1 1017.0 Z" fill="#7f7f7f" stroke="#1a1a1a" stroke-width="1.5"/><path d="M1156.9 971.6 L1169.2 983.9 L1156.9 996.2 L1144.6 983.9 Z" fill="#7f7f7f" stroke="#1a1a1a" stroke-width="1.5"/><path d="M1243.5 901.0 L1255.8 913.3 L1243.5 925.6 L1231.2 913.3 Z" fill="#7f7f7f" stroke="#1a1a1a" stroke-width="1.5"/><path d="M1330.0 987.0 L1342.3 999.3 L1330.0 1011.6 L1317.8 999.3 Z" fill="#7f7f7f" stroke="#1a1a1a" stroke-width="1.5"/><path d="M1416.6 959.0 L1428.9 971.3 L1416.6 983.6 L1404.3 971.3 Z" fill="#7f7f7f" stroke="#1a1a1a" stroke-width="1.5"/><path d="M1503.2 966.8 L1515.5 979.1 L1503.2 991.4 L1490.9 979.1 Z" fill="#7f7f7f" stroke="#1a1a1a" stroke-width="1.5"/><path d="M1589.7 976.1 L1602.0 988.4 L1589.7 1000.7 L1577.4 988.4 Z" fill="#7f7f7f" stroke="#1a1a1a" stroke-width="1.5"/><path d="M1676.3 985.6 L1688.6 997.9 L1676.3 1010.2 L1664.0 997.9 Z" fill="#7f7f7f" stroke="#1a1a1a" stroke-width="1.5"/>
<polyline points="983.8,1066.0 1070.4,1064.0 1156.9,1061.8 1243.5,1061.8 1330.0,1052.0 1416.6,1061.2 1503.2,1053.4 1589.7,1061.8 1676.3,1061.8" fill="none" stroke="#1a1a1a" stroke-width="1.6"/><path d="M983.8 1053.7 L996.1 1066.0 L983.8 1078.3 L971.5 1066.0 Z" fill="#000" stroke="#000" stroke-width="1.5"/><path d="M1070.4 1051.7 L1082.7 1064.0 L1070.4 1076.3 L1058.1 1064.0 Z" fill="#000" stroke="#000" stroke-width="1.5"/><path d="M1156.9 1049.5 L1169.2 1061.8 L1156.9 1074.1 L1144.6 1061.8 Z" fill="#000" stroke="#000" stroke-width="1.5"/><path d="M1243.5 1049.5 L1255.8 1061.8 L1243.5 1074.1 L1231.2 1061.8 Z" fill="#000" stroke="#000" stroke-width="1.5"/><path d="M1330.0 1039.7 L1342.3 1052.0 L1330.0 1064.3 L1317.8 1052.0 Z" fill="#000" stroke="#000" stroke-width="1.5"/><path d="M1416.6 1048.9 L1428.9 1061.2 L1416.6 1073.5 L1404.3 1061.2 Z" fill="#000" stroke="#000" stroke-width="1.5"/><path d="M1503.2 1041.1 L1515.5 1053.4 L1503.2 1065.7 L1490.9 1053.4 Z" fill="#000" stroke="#000" stroke-width="1.5"/><path d="M1589.7 1049.5 L1602.0 1061.8 L1589.7 1074.1 L1577.4 1061.8 Z" fill="#000" stroke="#000" stroke-width="1.5"/><path d="M1676.3 1049.5 L1688.6 1061.8 L1676.3 1074.1 L1664.0 1061.8 Z" fill="#000" stroke="#000" stroke-width="1.5"/>
</svg>
</body></html>
